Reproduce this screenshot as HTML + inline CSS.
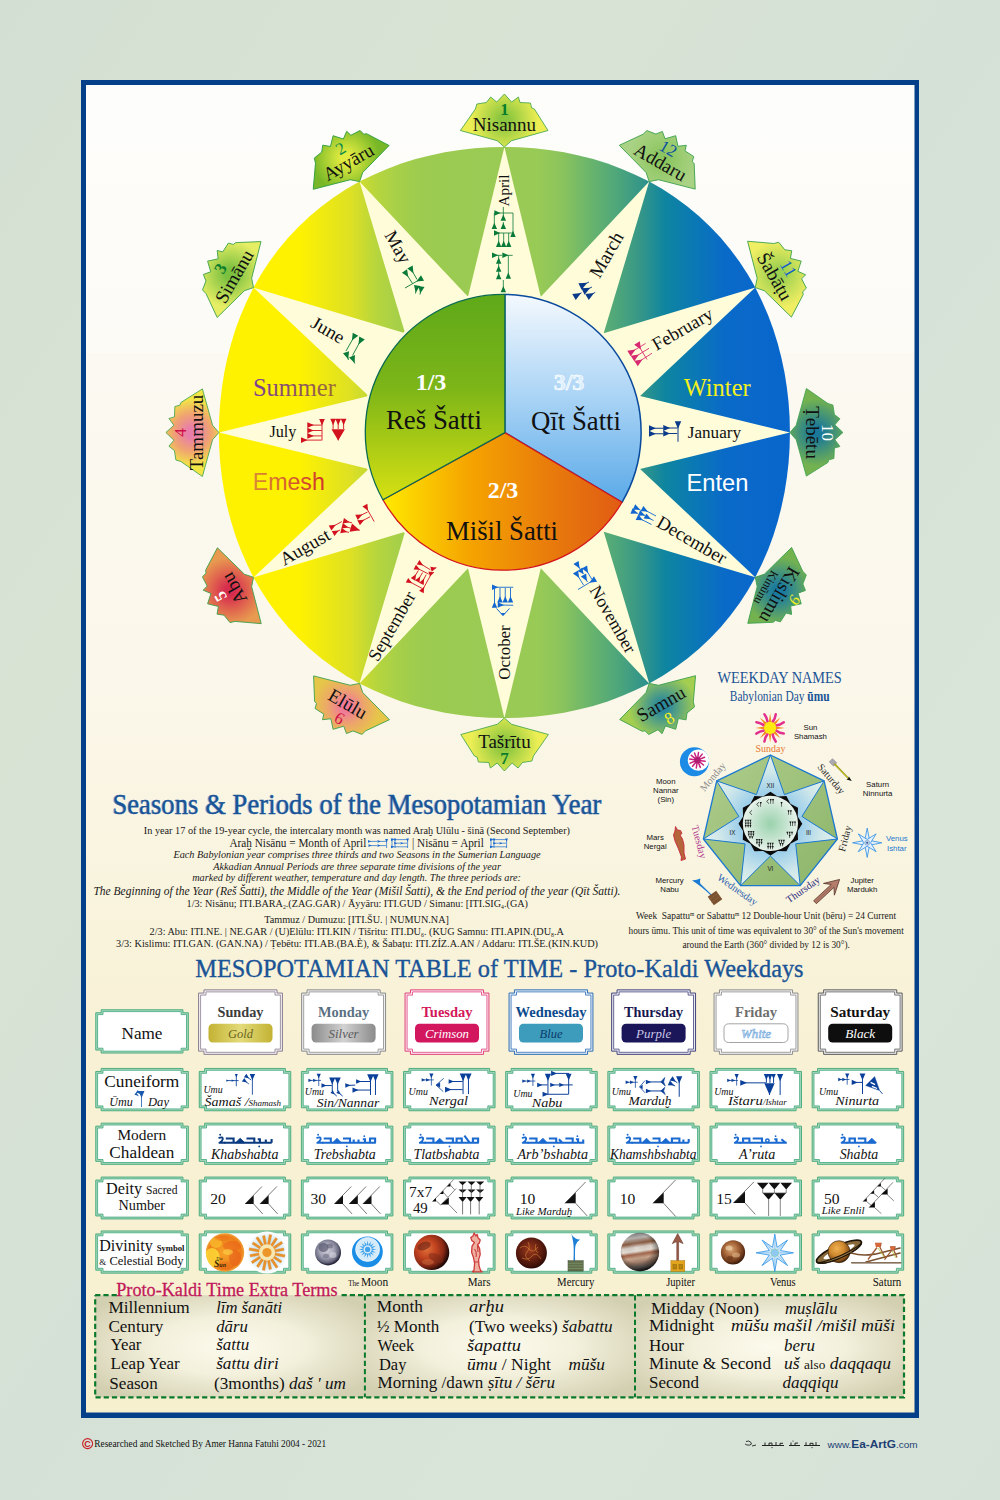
<!DOCTYPE html>
<html><head><meta charset="utf-8"><title>Seasons &amp; Periods of the Mesopotamian Year</title>
<style>
html,body{margin:0;padding:0;background:#d6e1d5;}
body{width:1000px;height:1500px;overflow:hidden;font-family:"Liberation Serif",serif;}
svg{display:block}
.se{font-family:"Liberation Serif",serif}
.sa{font-family:"Liberation Sans",sans-serif}
.i{font-style:italic}
.b{font-weight:bold}
</style></head><body>
<svg width="1000" height="1500" viewBox="0 0 1000 1500">

<defs>
<linearGradient id="bg" x1="0" y1="0" x2="1" y2="1">
<stop offset="0" stop-color="#d3dfd2"/><stop offset="0.25" stop-color="#d8e3d4"/><stop offset="0.5" stop-color="#d5e1d6"/><stop offset="0.75" stop-color="#dae5d9"/><stop offset="1" stop-color="#d6e2d7"/>
</linearGradient>
<linearGradient id="paper" x1="0" y1="0" x2="0" y2="1">
<stop offset="0" stop-color="#fdfdfb"/><stop offset="0.2015" stop-color="#fcfbf6"/><stop offset="0.2025" stop-color="#fbf9f1"/><stop offset="0.45" stop-color="#fbf7ea"/><stop offset="0.6" stop-color="#f9f4de"/><stop offset="0.72" stop-color="#f8f1d5"/><stop offset="1" stop-color="#f7f0cf"/>
</linearGradient>
<linearGradient id="disc" gradientUnits="userSpaceOnUse" x1="219" y1="0" x2="789" y2="0">
<stop offset="0" stop-color="#fff200"/><stop offset="0.14" stop-color="#fff200"/><stop offset="0.232" stop-color="#dde024"/><stop offset="0.274" stop-color="#b8d63c"/><stop offset="0.31" stop-color="#a8d048"/><stop offset="0.355" stop-color="#9ccb50"/><stop offset="0.56" stop-color="#98ca56"/><stop offset="0.60" stop-color="#8cc45c"/><stop offset="0.65" stop-color="#6ab56c"/><stop offset="0.705" stop-color="#4aa47c"/><stop offset="0.74" stop-color="#359688"/><stop offset="0.782" stop-color="#0f85a0"/><stop offset="0.835" stop-color="#0a78b5"/><stop offset="0.888" stop-color="#0a6ac8"/><stop offset="1" stop-color="#0866cc"/>
</linearGradient>
<linearGradient id="gGreen" x1="0" y1="0" x2="0" y2="1">
<stop offset="0" stop-color="#5fa91a"/><stop offset="0.45" stop-color="#7cb518"/><stop offset="1" stop-color="#d6e012"/>
</linearGradient>
<linearGradient id="gBlue" x1="0" y1="0" x2="0" y2="1">
<stop offset="0" stop-color="#f4f9fe"/><stop offset="0.5" stop-color="#a9d3f5"/><stop offset="1" stop-color="#5baae8"/>
</linearGradient>
<linearGradient id="gOrange" gradientUnits="userSpaceOnUse" x1="385" y1="0" x2="625" y2="0">
<stop offset="0" stop-color="#ffe800"/><stop offset="0.35" stop-color="#f5a400"/><stop offset="0.7" stop-color="#e87a0c"/><stop offset="1" stop-color="#e05a14"/>
</linearGradient>
<linearGradient id="gSummer" x1="0" y1="0" x2="1" y2="0"><stop offset="0" stop-color="#7b3f98"/><stop offset="1" stop-color="#9b6a35"/></linearGradient>
<linearGradient id="gEmesh" x1="0" y1="0" x2="1" y2="0"><stop offset="0" stop-color="#d98a35"/><stop offset="1" stop-color="#d0342c"/></linearGradient>
</defs>
<rect width="1000" height="1500" fill="url(#bg)"/>
<rect x="81" y="80" width="838" height="1338" fill="#04408a"/>
<rect x="86" y="85" width="828.5" height="1327.5" fill="url(#paper)"/>
<polygon points="504.4,147.0 519.3,147.3 534.3,148.3 549.1,150.0 564.0,152.3 578.7,155.4 593.2,159.1 607.6,163.6 621.8,168.9 635.7,174.9 649.2,181.6 662.4,189.1 675.2,197.4 687.4,206.5 699.1,216.2 710.2,226.7 720.7,237.8 730.4,249.5 739.5,261.7 747.8,274.5 755.3,287.6 762.0,301.2 768.0,315.1 773.3,329.3 777.8,343.7 781.5,358.2 784.6,372.9 786.9,387.8 788.6,402.6 789.6,417.6 789.9,432.5 789.6,447.4 788.6,462.4 786.9,477.2 784.6,492.1 781.5,506.8 777.8,521.3 773.3,535.7 768.0,549.9 762.0,563.8 755.3,577.3 747.8,590.5 739.5,603.3 730.4,615.5 720.7,627.2 710.2,638.3 699.1,648.8 687.4,658.5 675.2,667.6 662.4,675.9 649.2,683.4 635.7,690.1 621.8,696.1 607.6,701.4 593.2,705.9 578.7,709.6 564.0,712.7 549.1,715.0 534.3,716.7 519.3,717.7 504.4,718.0 489.5,717.7 474.5,716.7 459.7,715.0 444.8,712.7 430.1,709.6 415.6,705.9 401.2,701.4 387.0,696.1 373.1,690.1 359.5,683.4 346.4,675.9 333.6,667.6 321.4,658.5 309.7,648.8 298.6,638.3 288.1,627.2 278.4,615.5 269.3,603.3 261.0,590.5 253.5,577.4 246.8,563.8 240.8,549.9 235.5,535.7 231.0,521.3 227.3,506.8 224.2,492.1 221.9,477.2 220.2,462.4 219.2,447.4 218.9,432.5 219.2,417.6 220.2,402.6 221.9,387.8 224.2,372.9 227.3,358.2 231.0,343.7 235.5,329.3 240.8,315.1 246.8,301.2 253.5,287.6 261.0,274.5 269.3,261.7 278.4,249.5 288.1,237.8 298.6,226.7 309.7,216.2 321.4,206.5 333.6,197.4 346.4,189.1 359.5,181.6 373.1,174.9 387.0,168.9 401.2,163.6 415.6,159.1 430.1,155.4 444.8,152.3 459.7,150.0 474.5,148.3 489.5,147.3" fill="url(#disc)"/>
<polygon points="504.4,147.0 540.8,296.8 649.2,181.6 603.7,333.2 755.3,287.6 640.1,396.1 789.9,432.5 640.1,468.9 755.3,577.3 603.7,531.8 649.2,683.4 540.8,568.2 504.4,718.0 468.0,568.2 359.5,683.4 405.1,531.8 253.5,577.4 368.7,468.9 218.9,432.5 368.7,396.1 253.5,287.6 405.1,333.2 359.5,181.6 468.0,296.8" fill="#fffcd9"/>
<radialGradient id="tg0" gradientUnits="userSpaceOnUse" cx="0" cy="-27" r="42"><stop offset="0" stop-color="#8cc63f"/><stop offset="0.12" stop-color="#8cc63f"/><stop offset="0.8" stop-color="#ecee54"/></radialGradient>
<g transform="translate(504.4,147.0) rotate(0)">
<polygon points="0,0 -7.2,-6.3 -44,-16.5 -29,-38 -27.5,-43 -18,-44.5 -13.7,-50 -7.7,-45 0,-53 7.2,-45 14,-50 15.6,-44.5 26,-44 27.3,-39 30,-38 43.6,-16.5 7.2,-6.3" fill="url(#tg0)" stroke="#3aa04a" stroke-width="0.8" stroke-linejoin="miter"/>
<text x="0" y="-32.5" font-size="17" class="se b" fill="#0a7d2c" text-anchor="middle" >1</text>
<text x="0" y="-16" font-size="19" class="se" fill="#111" text-anchor="middle" >Nisannu</text>
</g>
<radialGradient id="tg1" gradientUnits="userSpaceOnUse" cx="0" cy="-27" r="42"><stop offset="0" stop-color="#e2ec40"/><stop offset="0.12" stop-color="#e2ec40"/><stop offset="0.8" stop-color="#78b828"/></radialGradient>
<g transform="translate(359.6,181.6) rotate(-30)">
<polygon points="0,0 -7.2,-6.3 -44,-16.5 -29,-38 -27.5,-43 -18,-44.5 -13.7,-50 -7.7,-45 0,-53 7.2,-45 14,-50 15.6,-44.5 26,-44 27.3,-39 30,-38 43.6,-16.5 7.2,-6.3" fill="url(#tg1)" stroke="#2a9a3a" stroke-width="0.8" stroke-linejoin="miter"/>
<text x="0" y="-32.5" font-size="17" class="se" fill="#0a8a4c" text-anchor="middle" >2</text>
<text x="0" y="-16" font-size="19" class="se" fill="#111" text-anchor="middle" >Ayyāru</text>
</g>
<radialGradient id="tg2" gradientUnits="userSpaceOnUse" cx="0" cy="-27" r="42"><stop offset="0" stop-color="#7cc040"/><stop offset="0.12" stop-color="#7cc040"/><stop offset="0.8" stop-color="#e6ee64"/></radialGradient>
<g transform="translate(253.5,287.6) rotate(-60)">
<polygon points="0,0 -7.2,-6.3 -44,-16.5 -29,-38 -27.5,-43 -18,-44.5 -13.7,-50 -7.7,-45 0,-53 7.2,-45 14,-50 15.6,-44.5 26,-44 27.3,-39 30,-38 43.6,-16.5 7.2,-6.3" fill="url(#tg2)" stroke="#3aa04a" stroke-width="0.8" stroke-linejoin="miter"/>
<text x="0" y="-32.5" font-size="17" class="se b" fill="#0a7d2c" text-anchor="middle" >3</text>
<text x="0" y="-16" font-size="19" class="se" fill="#111" text-anchor="middle" >Simānu</text>
</g>
<radialGradient id="tg3" gradientUnits="userSpaceOnUse" cx="0" cy="-27" r="42"><stop offset="0" stop-color="#e87eaa"/><stop offset="0.12" stop-color="#e87eaa"/><stop offset="0.45" stop-color="#f0a470"/><stop offset="0.8" stop-color="#f2e646"/></radialGradient>
<g transform="translate(218.9,432.5) rotate(-90)">
<polygon points="0,0 -7.2,-6.3 -44,-16.5 -29,-38 -27.5,-43 -18,-44.5 -13.7,-50 -7.7,-45 0,-53 7.2,-45 14,-50 15.6,-44.5 26,-44 27.3,-39 30,-38 43.6,-16.5 7.2,-6.3" fill="url(#tg3)" stroke="#3aa04a" stroke-width="0.8" stroke-linejoin="miter"/>
<text x="0" y="-32.5" font-size="17" class="se" fill="#d0104a" text-anchor="middle" >4</text>
<text x="0" y="-16" font-size="19" class="se" fill="#111" text-anchor="middle" >Tammuzu</text>
</g>
<radialGradient id="tg4" gradientUnits="userSpaceOnUse" cx="0" cy="-27" r="42"><stop offset="0" stop-color="#d62c4e"/><stop offset="0.12" stop-color="#d62c4e"/><stop offset="0.45" stop-color="#e0644e"/><stop offset="0.8" stop-color="#e89a50"/></radialGradient>
<g transform="translate(253.5,577.3) rotate(-120)">
<polygon points="0,0 -7.2,-6.3 -44,-16.5 -29,-38 -27.5,-43 -18,-44.5 -13.7,-50 -7.7,-45 0,-53 7.2,-45 14,-50 15.6,-44.5 26,-44 27.3,-39 30,-38 43.6,-16.5 7.2,-6.3" fill="url(#tg4)" stroke="#3aa04a" stroke-width="0.8" stroke-linejoin="miter"/>
<text x="0" y="-32.5" font-size="17" class="se b" fill="#ffffff" text-anchor="middle" >5</text>
<text x="0" y="-16" font-size="19" class="se" fill="#111" text-anchor="middle" >Abu</text>
</g>
<radialGradient id="tg5" gradientUnits="userSpaceOnUse" cx="0" cy="-27" r="42"><stop offset="0" stop-color="#f07a98"/><stop offset="0.12" stop-color="#f07a98"/><stop offset="0.45" stop-color="#eca868"/><stop offset="0.8" stop-color="#e6c648"/></radialGradient>
<g transform="translate(359.6,683.4) rotate(-150)">
<polygon points="0,0 -7.2,-6.3 -44,-16.5 -29,-38 -27.5,-43 -18,-44.5 -13.7,-50 -7.7,-45 0,-53 7.2,-45 14,-50 15.6,-44.5 26,-44 27.3,-39 30,-38 43.6,-16.5 7.2,-6.3" fill="url(#tg5)" stroke="#3aa04a" stroke-width="0.8" stroke-linejoin="miter"/>
<g transform="rotate(180)">
<text x="0" y="30" font-size="19" class="se" fill="#111" text-anchor="middle" >Elūlu</text>
<text x="0" y="46" font-size="17" class="se" fill="#d0104a" text-anchor="middle" >6</text>
</g>
</g>
<radialGradient id="tg6" gradientUnits="userSpaceOnUse" cx="0" cy="-27" r="42"><stop offset="0" stop-color="#8cc63f"/><stop offset="0.12" stop-color="#8cc63f"/><stop offset="0.8" stop-color="#ecee54"/></radialGradient>
<g transform="translate(504.4,718.0) rotate(180)">
<polygon points="0,0 -7.2,-6.3 -44,-16.5 -29,-38 -27.5,-43 -18,-44.5 -13.7,-50 -7.7,-45 0,-53 7.2,-45 14,-50 15.6,-44.5 26,-44 27.3,-39 30,-38 43.6,-16.5 7.2,-6.3" fill="url(#tg6)" stroke="#3aa04a" stroke-width="0.8" stroke-linejoin="miter"/>
<g transform="rotate(180)">
<text x="0" y="30" font-size="19" class="se" fill="#111" text-anchor="middle" >Tašrītu</text>
<text x="0" y="46" font-size="17" class="se b" fill="#0a7d2c" text-anchor="middle" >7</text>
</g>
</g>
<radialGradient id="tg7" gradientUnits="userSpaceOnUse" cx="0" cy="-27" r="42"><stop offset="0" stop-color="#2a889c"/><stop offset="0.12" stop-color="#2a889c"/><stop offset="0.8" stop-color="#a4ce50"/></radialGradient>
<g transform="translate(649.2,683.4) rotate(150)">
<polygon points="0,0 -7.2,-6.3 -44,-16.5 -29,-38 -27.5,-43 -18,-44.5 -13.7,-50 -7.7,-45 0,-53 7.2,-45 14,-50 15.6,-44.5 26,-44 27.3,-39 30,-38 43.6,-16.5 7.2,-6.3" fill="url(#tg7)" stroke="#3aa04a" stroke-width="0.8" stroke-linejoin="miter"/>
<g transform="rotate(180)">
<text x="0" y="30" font-size="19" class="se" fill="#111" text-anchor="middle" >Samnu</text>
<text x="0" y="46" font-size="17" class="se" fill="#f5f020" text-anchor="middle" >8</text>
</g>
</g>
<radialGradient id="tg8" gradientUnits="userSpaceOnUse" cx="0" cy="-27" r="42"><stop offset="0" stop-color="#1a7aa0"/><stop offset="0.12" stop-color="#1a7aa0"/><stop offset="0.8" stop-color="#74b250"/></radialGradient>
<g transform="translate(755.3,577.3) rotate(120)">
<polygon points="0,0 -7.2,-6.3 -44,-16.5 -29,-38 -27.5,-43 -18,-44.5 -13.7,-50 -7.7,-45 0,-53 7.2,-45 14,-50 15.6,-44.5 26,-44 27.3,-39 30,-38 43.6,-16.5 7.2,-6.3" fill="url(#tg8)" stroke="#3aa04a" stroke-width="0.8" stroke-linejoin="miter"/>
<text x="0" y="-40" font-size="16" class="se i" fill="#f5f020" text-anchor="middle" >9</text>
<text x="3" y="-23.5" font-size="19" class="se" fill="#111" text-anchor="middle" >Kislimu</text>
<text x="3.5" y="-10.5" font-size="12.3" class="se" fill="#111" text-anchor="middle" >Kinūnu</text>
</g>
<radialGradient id="tg9" gradientUnits="userSpaceOnUse" cx="0" cy="-27" r="42"><stop offset="0" stop-color="#1a7898"/><stop offset="0.12" stop-color="#1a7898"/><stop offset="0.8" stop-color="#74b250"/></radialGradient>
<g transform="translate(789.9,432.5) rotate(90)">
<polygon points="0,0 -7.2,-6.3 -44,-16.5 -29,-38 -27.5,-43 -18,-44.5 -13.7,-50 -7.7,-45 0,-53 7.2,-45 14,-50 15.6,-44.5 26,-44 27.3,-39 30,-38 43.6,-16.5 7.2,-6.3" fill="url(#tg9)" stroke="#3aa04a" stroke-width="0.8" stroke-linejoin="miter"/>
<text x="0" y="-32.5" font-size="17" class="se" fill="#ffffff" text-anchor="middle" >10</text>
<text x="0" y="-16" font-size="19" class="se" fill="#111" text-anchor="middle" >Ṭebētu</text>
</g>
<radialGradient id="tg10" gradientUnits="userSpaceOnUse" cx="0" cy="-27" r="42"><stop offset="0" stop-color="#9cd050"/><stop offset="0.12" stop-color="#9cd050"/><stop offset="0.8" stop-color="#f0ee62"/></radialGradient>
<g transform="translate(755.3,287.6) rotate(60)">
<polygon points="0,0 -7.2,-6.3 -44,-16.5 -29,-38 -27.5,-43 -18,-44.5 -13.7,-50 -7.7,-45 0,-53 7.2,-45 14,-50 15.6,-44.5 26,-44 27.3,-39 30,-38 43.6,-16.5 7.2,-6.3" fill="url(#tg10)" stroke="#3aa04a" stroke-width="0.8" stroke-linejoin="miter"/>
<text x="0" y="-32.5" font-size="17" class="se" fill="#1060c8" text-anchor="middle" >11</text>
<text x="0" y="-16" font-size="19" class="se" fill="#111" text-anchor="middle" >Šabāṭu</text>
</g>
<radialGradient id="tg11" gradientUnits="userSpaceOnUse" cx="0" cy="-27" r="42"><stop offset="0" stop-color="#8cc660"/><stop offset="0.12" stop-color="#8cc660"/><stop offset="0.8" stop-color="#aad284"/></radialGradient>
<g transform="translate(649.2,181.6) rotate(30)">
<polygon points="0,0 -7.2,-6.3 -44,-16.5 -29,-38 -27.5,-43 -18,-44.5 -13.7,-50 -7.7,-45 0,-53 7.2,-45 14,-50 15.6,-44.5 26,-44 27.3,-39 30,-38 43.6,-16.5 7.2,-6.3" fill="url(#tg11)" stroke="#3aa04a" stroke-width="0.8" stroke-linejoin="miter"/>
<text x="0" y="-32.5" font-size="17" class="se" fill="#1050a0" text-anchor="middle" >12</text>
<text x="0" y="-16" font-size="19" class="se" fill="#111" text-anchor="middle" >Addaru</text>
</g>
<circle cx="503.2" cy="432.3" r="141" fill="#fffcd9"/>
<path d="M504.9,432.6 L504.88,294.41 A137.9,137.9 0 0 1 622.02,502.29 Z" fill="url(#gBlue)" stroke="#0a4a9c" stroke-width="1.5" stroke-linejoin="round"/>
<path d="M504.9,432.6 L622.02,502.29 A137.9,137.9 0 0 1 382.94,499.79 Z" fill="url(#gOrange)" stroke="#d4161e" stroke-width="1.3" stroke-linejoin="round"/>
<path d="M504.9,432.6 L382.94,499.79 A137.9,137.9 0 0 1 504.88,294.41 Z" fill="url(#gGreen)" stroke="#0a6a50" stroke-width="1.3" stroke-linejoin="round"/>
<text x="431" y="390" font-size="24" class="se b" fill="#ffffff" text-anchor="middle" >1/3</text>
<text x="434" y="429" font-size="27" class="se" fill="#111" text-anchor="middle" textLength="96" lengthAdjust="spacingAndGlyphs" >Reš Šatti</text>
<text x="569" y="390" font-size="24" class="se b" fill="#dbeefc" text-anchor="middle" stroke="#ffffff" stroke-width="0.6">3/3</text>
<text x="576" y="430" font-size="27" class="se" fill="#111" text-anchor="middle" textLength="90" lengthAdjust="spacingAndGlyphs" >Qīt Šatti</text>
<text x="503" y="498" font-size="24" class="se b" fill="#ffffff" text-anchor="middle" >2/3</text>
<text x="502" y="540" font-size="27" class="se" fill="#111" text-anchor="middle" textLength="112" lengthAdjust="spacingAndGlyphs" >Mišil Šatti</text>
<text x="294.4" y="395.5" font-size="24.5" class="se" fill="url(#gSummer)" text-anchor="middle" textLength="83" lengthAdjust="spacingAndGlyphs" >Summer</text>
<text x="288.8" y="490.4" font-size="23.1" class="sa" fill="url(#gEmesh)" text-anchor="middle" textLength="72" lengthAdjust="spacingAndGlyphs" >Emesh</text>
<text x="717.2" y="395.5" font-size="24.2" class="se" fill="#f3f01e" text-anchor="middle" textLength="67" lengthAdjust="spacingAndGlyphs" >Winter</text>
<text x="717.5" y="491" font-size="23.6" class="sa" fill="#ffffff" text-anchor="middle" textLength="62" lengthAdjust="spacingAndGlyphs" >Enten</text>
<g transform="translate(504.4,190.5) rotate(-90)"><text x="0" y="4.5" font-size="15" class="se" fill="#111" text-anchor="middle" textLength="32" lengthAdjust="spacingAndGlyphs" >April</text></g>
<g transform="translate(397.4,247.2) rotate(60)"><text x="0" y="5.55" font-size="18.5" class="se" fill="#111" text-anchor="middle" textLength="34.6" lengthAdjust="spacingAndGlyphs" >May</text></g>
<g transform="translate(327.7,330.5) rotate(30)"><text x="0" y="5.55" font-size="18.5" class="se" fill="#111" text-anchor="middle" textLength="35.5" lengthAdjust="spacingAndGlyphs" >June</text></g>
<g transform="translate(282.9,432.5) rotate(0)"><text x="0" y="4.95" font-size="16.5" class="se" fill="#111" text-anchor="middle" textLength="27" lengthAdjust="spacingAndGlyphs" >July</text></g>
<g transform="translate(305.2,547.5) rotate(-30)"><text x="0" y="5.55" font-size="18.5" class="se" fill="#111" text-anchor="middle" textLength="55" lengthAdjust="spacingAndGlyphs" >August</text></g>
<g transform="translate(392.4,626.5) rotate(-60)"><text x="0" y="5.3999999999999995" font-size="18" class="se" fill="#111" text-anchor="middle" textLength="77" lengthAdjust="spacingAndGlyphs" >September</text></g>
<g transform="translate(504.4,652.5) rotate(-90)"><text x="0" y="5.1" font-size="17" class="se" fill="#111" text-anchor="middle" textLength="54.4" lengthAdjust="spacingAndGlyphs" >October</text></g>
<g transform="translate(612.4,619.6) rotate(60)"><text x="0" y="5.34" font-size="17.8" class="se" fill="#111" text-anchor="middle" textLength="75" lengthAdjust="spacingAndGlyphs" >November</text></g>
<g transform="translate(691.5,540.5) rotate(30)"><text x="0" y="5.64" font-size="18.8" class="se" fill="#111" text-anchor="middle" textLength="77.2" lengthAdjust="spacingAndGlyphs" >December</text></g>
<g transform="translate(714.4,432.5) rotate(0)"><text x="0" y="5.159999999999999" font-size="17.2" class="se" fill="#111" text-anchor="middle" textLength="53.4" lengthAdjust="spacingAndGlyphs" >January</text></g>
<g transform="translate(682.8,329.5) rotate(-30)"><text x="0" y="5.55" font-size="18.5" class="se" fill="#111" text-anchor="middle" textLength="67" lengthAdjust="spacingAndGlyphs" >February</text></g>
<g transform="translate(606.9,255.0) rotate(-60)"><text x="0" y="5.669999999999999" font-size="18.9" class="se" fill="#111" text-anchor="middle" textLength="49.3" lengthAdjust="spacingAndGlyphs" >March</text></g>
<path d="M494.33,215.71L494.33,210.29L500.58,213.00ZM506.05,220.67L500.62,220.67L503.33,214.42ZM506.05,229.00L500.62,229.00L503.33,222.76ZM497.05,229.00L491.62,229.00L494.33,222.76ZM515.71,237.00L510.29,237.00L513.00,230.76ZM494.00,235.71L494.00,230.29L500.24,233.00ZM501.38,247.00L495.95,247.00L498.67,240.76ZM506.38,247.00L500.95,247.00L503.67,240.76ZM511.38,247.00L505.95,247.00L508.67,240.76ZM492.00,258.05L492.00,252.62L498.24,255.33ZM502.33,258.05L502.33,252.62L508.58,255.33ZM501.38,263.67L495.95,263.67L498.67,257.42ZM501.38,271.67L495.95,271.67L498.67,265.42ZM501.38,279.33L495.95,279.33L498.67,273.09ZM511.05,278.67L505.62,278.67L508.33,272.42ZM506.05,292.33L500.62,292.33L503.33,286.09Z" fill="#0a7a3a"/><path d="M497.45,213.00L513.00,213.00M503.33,217.55L503.33,207.00M503.33,225.88L503.33,222.00M494.33,225.88L494.33,213.00M513.00,233.88L513.00,213.00M497.12,233.00L513.00,233.00M498.67,243.88L498.67,233.00M503.67,243.88L503.67,233.00M508.67,243.88L508.67,233.00M495.12,255.33L502.00,255.33M505.45,255.33L512.67,255.33M498.67,260.55L498.67,255.33M498.67,268.55L498.67,263.33M498.67,276.21L498.67,271.33M508.33,275.55L508.33,255.33M503.33,289.21L503.33,280.00" stroke="#0a7a3a" stroke-width="0.8" fill="none"/>
<path d="M401.92,272.65L407.08,269.35L408.30,276.94ZM407.32,268.50L412.68,265.50L413.45,273.16ZM420.98,275.34L424.02,280.66L416.37,281.50ZM413.98,284.93L420.02,286.07L415.70,292.44ZM418.48,285.93L424.52,287.07L420.20,293.44Z" fill="#0a7a3a"/><path d="M406.40,273.97L412.50,283.50M411.72,270.08L417.00,279.50M419.44,279.75L405.00,288.00M416.35,288.97L415.50,293.50M420.85,289.97L420.00,294.50" stroke="#0a7a3a" stroke-width="0.9" fill="none"/>
<path d="M352.73,332.68L358.27,335.82L351.88,340.62ZM359.20,336.48L364.80,339.52L358.50,344.44ZM342.97,353.23L349.03,351.27L348.25,359.22ZM349.02,357.38L354.98,355.12L354.60,363.10Z" fill="#0a7a3a"/><path d="M353.69,337.44L346.00,351.00M360.25,341.22L352.50,355.50M347.12,355.74L348.50,360.00M353.30,359.68L354.75,363.50" stroke="#0a7a3a" stroke-width="0.9" fill="none"/>
<path d="M307.30,427.93L307.30,422.27L313.81,425.10ZM307.30,433.33L307.30,427.67L313.81,430.50ZM307.30,438.73L307.30,433.07L313.81,435.90ZM301.00,442.93L301.00,437.27L307.51,440.10ZM319.17,419.10L324.83,419.10L322.00,425.61ZM330.27,418.80L335.93,418.80L333.10,425.31ZM335.37,418.80L341.03,418.80L338.20,425.31ZM340.77,418.80L346.43,418.80L343.60,425.31ZM331.47,429.30L344.93,429.30L338.20,440.40Z" fill="#d3121f"/><path d="M310.56,425.10L321.70,425.10M310.56,430.50L321.70,430.50M310.56,435.90L321.70,435.90M304.26,440.10L321.70,440.10M322.00,422.36L322.00,440.40M333.10,422.06L333.10,429.00M338.20,422.06L338.20,429.00M343.60,422.06L343.60,429.00M338.20,434.85L338.20,440.40" stroke="#d3121f" stroke-width="0.9" fill="none"/>
<path d="M362.43,506.49L367.37,503.71L368.10,510.77ZM357.74,519.95L355.26,514.85L362.36,514.55ZM359.92,525.31L357.28,520.29L364.36,519.77ZM331.44,530.39L328.76,525.41L335.83,524.81ZM334.41,536.11L331.79,531.09L338.87,530.59ZM342.64,523.45L343.96,517.95L349.63,522.23ZM341.35,528.53L342.85,523.07L348.38,527.53ZM340.29,533.36L341.51,527.83L347.26,532.01ZM349.58,531.67L352.02,523.53L359.80,530.30Z" fill="#d3121f"/><path d="M366.50,507.94L374.20,521.60M359.43,515.97L367.60,512.00M361.48,521.28L370.00,516.80M332.97,526.36L341.80,521.60M335.99,532.09L340.00,530.00M346.47,521.46L352.00,522.80M345.24,526.67L350.80,528.20M344.08,531.31L349.00,532.40M355.30,528.95L359.80,530.30" stroke="#d3121f" stroke-width="0.9" fill="none"/>
<path d="M416.75,564.52L419.45,560.08L423.20,565.41ZM413.64,569.42L415.96,564.78L420.14,569.77ZM405.77,582.58L408.23,578.02L412.25,583.14ZM415.23,580.74L410.77,578.06L416.07,574.28ZM419.43,582.84L414.97,580.16L420.27,576.38ZM423.71,585.09L419.09,582.71L424.14,578.59ZM423.68,593.25L419.12,590.75L424.27,586.76ZM431.69,571.70L430.30,566.70L436.40,567.70ZM429.97,576.48L428.42,571.52L434.00,572.50Z" fill="#d3121f"/><path d="M420.65,563.85L430.40,569.80M417.47,568.43L428.60,574.00M409.63,581.72L422.00,588.40M414.54,576.84L418.40,570.40M418.74,578.94L422.60,572.50M422.77,581.25L426.20,574.60M422.83,589.38L431.60,573.40M433.70,568.45L436.40,567.70M431.60,573.25L434.00,572.50" stroke="#d3121f" stroke-width="0.9" fill="none"/>
<path d="M492.00,589.96L492.00,584.54L498.24,587.25ZM497.21,607.75L491.79,607.75L494.50,601.51ZM502.71,602.50L497.29,602.50L500.00,596.26ZM507.96,602.50L502.54,602.50L505.25,596.26ZM513.21,602.50L507.79,602.50L510.50,596.26ZM497.71,607.71L497.79,602.29L503.99,605.10Z" fill="#1266d0"/><path d="M495.12,587.25L513.25,587.25M494.50,604.63L494.50,588.50M500.00,599.38L500.00,588.00M505.25,599.38L505.25,588.00M510.50,599.38L510.50,588.00M500.87,605.05L513.25,605.25" stroke="#1266d0" stroke-width="0.9" fill="none"/>
<polyline points="496.50,608.50 503.00,615.50 509.50,608.50" stroke="#1266d0" stroke-width="1.0" fill="none"/>
<path d="M500.50,613.00 L505.50,613.00 L503.00,615.75Z" fill="#1266d0"/>
<path d="M573.39,564.11L578.61,560.89L579.70,568.51ZM577.53,571.07L582.47,567.43L583.50,574.00ZM580.84,576.52L586.16,573.48L587.00,581.13ZM572.89,573.61L578.11,570.39L579.20,578.01ZM581.87,568.58L587.13,565.42L588.13,573.05ZM593.92,576.37L597.08,581.63L589.45,582.63Z" fill="#1266d0"/><path d="M577.85,565.50L580.00,569.00M581.75,571.62L583.50,574.00M585.25,578.06L587.50,582.00M577.35,575.00L583.50,585.00M586.32,570.03L592.00,579.50M592.47,580.82L578.00,589.50" stroke="#1266d0" stroke-width="0.9" fill="none"/>
<path d="M632.76,509.68L635.24,504.32L640.16,509.84ZM630.44,513.75L632.56,508.25L637.83,513.44ZM640.61,511.10L643.39,505.90L647.98,511.70ZM637.87,515.72L640.13,510.28L645.00,515.50ZM643.62,518.61L646.38,513.39L651.00,519.17ZM635.68,519.89L638.32,514.61L643.07,520.28Z" fill="#1266d0"/><path d="M637.08,508.42L640.50,510.00M634.67,512.22L638.00,513.50M644.99,510.10L656.00,516.00M642.00,514.25L645.00,515.50M648.00,517.59L653.50,520.50M640.03,518.77L651.50,524.50" stroke="#1266d0" stroke-width="0.9" fill="none"/>
<path d="M649.00,431.20L649.00,425.30L655.78,428.25ZM649.00,436.70L649.00,430.80L655.78,433.75ZM663.25,430.95L663.25,425.05L670.03,428.00ZM663.25,436.45L663.25,430.55L670.03,433.50ZM674.75,421.25L681.25,421.25L678.00,428.71Z" fill="#0a3a8a"/><path d="M652.39,428.25L663.50,428.25M652.39,433.75L663.50,433.75M666.64,428.00L677.25,428.00M666.64,433.50L677.25,433.50M678.00,424.98L678.00,441.75" stroke="#0a3a8a" stroke-width="1.0" fill="none"/>
<path d="M630.71,356.33L627.29,350.67L635.50,349.56ZM634.24,361.31L630.76,355.69L638.96,354.49ZM637.78,366.28L634.22,360.72L642.40,359.40ZM634.17,344.71L639.83,341.29L640.94,349.50Z" fill="#d82a70"/><path d="M632.25,351.53L645.50,343.50M635.73,356.50L649.00,348.25M639.20,361.45L652.00,353.25M638.97,346.25L647.00,359.50" stroke="#d82a70" stroke-width="0.9" fill="none"/>
<path d="M581.58,289.67L578.42,283.33L587.28,282.86ZM584.58,294.67L581.42,288.33L590.28,287.86ZM588.77,300.07L585.23,293.93L594.06,292.94ZM575.75,300.08L572.25,293.92L581.08,292.99Z" fill="#0a3a8a"/><path d="M583.64,284.68L589.00,282.00M586.64,289.68L592.00,287.00M590.53,294.97L595.25,292.25M577.54,294.99L581.50,292.75" stroke="#0a3a8a" stroke-width="0.9" fill="none"/>
<text x="111.3" y="814.0" font-size="29.5" class="se" fill="#a9c6e6" textLength="489.0" lengthAdjust="spacingAndGlyphs" >Seasons &amp; Periods of the Mesopotamian Year</text>
<text x="112.4" y="813.6" font-size="29.5" class="se" fill="#1a5496" textLength="489.0" lengthAdjust="spacingAndGlyphs" stroke="#1a5496" stroke-width="0.35">Seasons &amp; Periods of the Mesopotamian Year</text>
<text x="143.8" y="833.8" font-size="10.6" class="se" fill="#1a1a1a" textLength="426.2" lengthAdjust="spacingAndGlyphs" >In year 17 of the 19-year cycle, the intercalary month was named Araḫ Ulūlu - šinā (Second September)</text>
<text x="229.5" y="847.0" font-size="12.6" class="se" fill="#1a1a1a" textLength="136.8" lengthAdjust="spacingAndGlyphs" >Araḫ Nisānu = Month of April</text>
<path d="M368.00,842.80L368.00,840.00L371.22,841.40ZM377.50,842.80L377.50,840.00L380.72,841.40ZM368.50,847.00L368.50,844.20L371.72,845.60ZM377.50,847.00L377.50,844.20L380.72,845.60ZM385.10,839.00L388.10,839.00L386.60,842.45Z" fill="#1a6ad0"/><path d="M369.61,841.40L377.00,841.40M379.11,841.40L386.00,841.40M370.11,845.60L377.00,845.60M379.11,845.60L386.00,845.60M386.60,840.73L386.60,848.00" stroke="#1a6ad0" stroke-width="0.7" fill="none"/><path d="M391.00,841.00L391.00,838.20L394.22,839.60ZM391.00,848.20L391.00,845.40L394.22,846.80ZM394.20,844.50L394.20,841.90L397.19,843.20ZM400.50,844.50L400.50,841.90L403.49,843.20ZM390.70,838.60L393.30,838.60L392.00,841.59ZM393.70,838.60L396.30,838.60L395.00,841.59ZM406.20,838.60L409.00,838.60L407.60,841.82Z" fill="#1a6ad0"/><path d="M392.61,839.60L408.00,839.60M392.61,846.80L408.00,846.80M395.69,843.20L400.00,843.20M402.00,843.20L407.00,843.20M392.00,840.10L392.00,848.00M395.00,840.10L395.00,848.00M407.60,840.21L407.60,848.00" stroke="#1a6ad0" stroke-width="0.7" fill="none"/><path d="M490.00,841.00L490.00,838.20L493.22,839.60ZM490.00,848.20L490.00,845.40L493.22,846.80ZM493.20,844.50L493.20,841.90L496.19,843.20ZM499.50,844.50L499.50,841.90L502.49,843.20ZM489.70,838.60L492.30,838.60L491.00,841.59ZM492.70,838.60L495.30,838.60L494.00,841.59ZM505.20,838.60L508.00,838.60L506.60,841.82Z" fill="#1a6ad0"/><path d="M491.61,839.60L507.00,839.60M491.61,846.80L507.00,846.80M494.69,843.20L499.00,843.20M501.00,843.20L506.00,843.20M491.00,840.10L491.00,848.00M494.00,840.10L494.00,848.00M506.60,840.21L506.60,848.00" stroke="#1a6ad0" stroke-width="0.7" fill="none"/>
<text x="412.0" y="847.0" font-size="12.6" class="se" fill="#1a1a1a" textLength="71.8" lengthAdjust="spacingAndGlyphs" >| Nisānu = April</text>
<text x="173.4" y="858.4" font-size="10.6" class="se i" fill="#1a1a1a" textLength="367.2" lengthAdjust="spacingAndGlyphs" >Each Babylonian year comprises three thirds and two Seasons in the Sumerian Language</text>
<text x="213.2" y="870.0" font-size="10.6" class="se i" fill="#1a1a1a" textLength="287.7" lengthAdjust="spacingAndGlyphs" >Akkadian Annual Periods are three separate time divisions of the year</text>
<text x="192.2" y="881.4" font-size="10.6" class="se i" fill="#1a1a1a" textLength="328.8" lengthAdjust="spacingAndGlyphs" >marked by different weather, temperature and day length. The three periods are:</text>
<text x="93.4" y="894.8" font-size="12.6" class="se i" fill="#1a1a1a" textLength="527.0" lengthAdjust="spacingAndGlyphs" >The Beginning of the Year (Reš Šatti), the Middle of the Year (Mišil Šatti), &amp; the End period of the year (Qīt Šatti).</text>
<text x="186.6" y="907.4" font-size="10.6" class="se" fill="#1a1a1a" textLength="341.4" lengthAdjust="spacingAndGlyphs" >1/3: Nisānu; ITI.BARA<tspan font-size="6" dy="2">2</tspan><tspan dy="-2">.(ZAG.GAR) / Āyyāru: ITI.GUD / Simanu: [ITI.SIG</tspan><tspan font-size="6" dy="2">4</tspan><tspan dy="-2">.(GA)</tspan></text>
<text x="264.2" y="923.4" font-size="10.6" class="se" fill="#1a1a1a" textLength="184.8" lengthAdjust="spacingAndGlyphs" >Tammuz / Dumuzu: [ITI.ŠU. | NUMUN.NA]</text>
<text x="149.6" y="935.4" font-size="10.6" class="se" fill="#1a1a1a" textLength="414.3" lengthAdjust="spacingAndGlyphs" >2/3: Abu: ITI.NE. | NE.GAR / (U)Elūlu: ITI.KIN / Tišritu: ITI.DU<tspan font-size="6" dy="2">6</tspan><tspan dy="-2">. (KUG Samnu: ITI.APIN.(DU</tspan><tspan font-size="6" dy="2">8</tspan><tspan dy="-2">.A</tspan></text>
<text x="116.0" y="947.2" font-size="10.6" class="se" fill="#1a1a1a" textLength="482.0" lengthAdjust="spacingAndGlyphs" >3/3: Kislimu: ITI.GAN. (GAN.NA) / Ṭebētu: ITI.AB.(BA.È), &amp; Šabaṭu: ITI.ZÍZ.A.AN / Addaru: ITI.ŠE.(KIN.KUD)</text>
<text x="195.3" y="977.4" font-size="25.4" class="se" fill="#1a5496" textLength="608.3" lengthAdjust="spacingAndGlyphs" stroke="#1a5496" stroke-width="0.35">MESOPOTAMIAN TABLE of TIME - Proto-Kaldi Weekdays</text>
<text x="717.6" y="683.0" font-size="16.5" class="se" fill="#1a5496" textLength="124.2" lengthAdjust="spacingAndGlyphs" >WEEKDAY NAMES</text>
<text x="729.8" y="701" font-size="13.6" class="se" fill="#1a5496" textLength="99.8" lengthAdjust="spacingAndGlyphs">Babylonian Day <tspan font-weight="bold">ūmu</tspan></text>
<linearGradient id="hg" gradientUnits="userSpaceOnUse" x1="700" y1="760" x2="840" y2="890"><stop offset="0" stop-color="#afcd8c"/><stop offset="1" stop-color="#8bb469"/></linearGradient>
<radialGradient id="hs" gradientUnits="userSpaceOnUse" cx="770.4" cy="823.7" r="68.7"><stop offset="0.35" stop-color="#8fc8ea"/><stop offset="0.75" stop-color="#cfe7ea"/><stop offset="1" stop-color="#e4f1ea"/></radialGradient>
<radialGradient id="hc" gradientUnits="userSpaceOnUse" cx="770.4" cy="823.7" r="28"><stop offset="0" stop-color="#9ad2ac"/><stop offset="0.55" stop-color="#c3e3ce"/><stop offset="1" stop-color="#e9f3ec"/></radialGradient>
<polygon points="770.4,755.0 824.1,780.9 837.4,839.0 800.2,885.6 740.6,885.6 703.4,839.0 716.7,780.9" fill="url(#hg)" stroke="#1a78d0" stroke-width="1.3" stroke-linejoin="round"/>
<polygon points="770.4,755.0 784.4,794.6 824.1,780.9 801.9,816.5 837.4,839.0 795.7,843.8 800.2,885.6 770.4,856.0 740.6,885.6 745.1,843.8 703.4,839.0 738.9,816.5 716.7,780.9 756.4,794.6" fill="url(#hs)" stroke="#1a78d0" stroke-width="1" stroke-linejoin="round"/>
<polygon points="770.4,791.8 777.7,796.4 786.4,796.1 790.4,803.7 798.0,807.8 797.7,816.4 802.3,823.7 797.7,831.0 798.0,839.7 790.4,843.7 786.4,851.3 777.7,851.0 770.4,855.6 763.1,851.0 754.4,851.3 750.4,843.7 742.8,839.7 743.1,831.0 738.5,823.7 743.1,816.4 742.8,807.8 750.4,803.7 754.4,796.1 763.1,796.4" fill="#0a0a0a"/>
<circle cx="770.4" cy="823.4000000000001" r="27.6" fill="url(#hc)"/>
<text x="770.4" y="787.5" font-size="6.3" class="sa" fill="#222" text-anchor="middle" >XII</text>
<text x="808.5" y="834.5" font-size="6.3" class="sa" fill="#222" text-anchor="middle" >III</text>
<text x="770.4" y="871" font-size="6.3" class="sa" fill="#222" text-anchor="middle" >VI</text>
<text x="732.6" y="834.5" font-size="6.3" class="sa" fill="#222" text-anchor="middle" >IX</text>
<path d="M780.50,802.09 h2.1 l-0.75,2.0 v2.60 h-0.6 v-2.60 z" fill="#1a1a1a"/>
<path d="M787.51,810.25 h2.1 l-0.75,2.0 v2.60 h-0.6 v-2.60 z" fill="#1a1a1a"/><path d="M789.81,810.25 h2.1 l-0.75,2.0 v2.60 h-0.6 v-2.60 z" fill="#1a1a1a"/>
<path d="M789.35,821.40 h2.1 l-0.75,2.0 v2.60 h-0.6 v-2.60 z" fill="#1a1a1a"/><path d="M791.65,821.40 h2.1 l-0.75,2.0 v2.60 h-0.6 v-2.60 z" fill="#1a1a1a"/><path d="M793.95,821.40 h2.1 l-0.75,2.0 v2.60 h-0.6 v-2.60 z" fill="#1a1a1a"/>
<path d="M786.36,831.65 h2.1 l-0.75,2.0 v1.20 h-0.6 v-1.20 z" fill="#1a1a1a"/><path d="M788.66,831.65 h2.1 l-0.75,2.0 v1.20 h-0.6 v-1.20 z" fill="#1a1a1a"/><path d="M790.96,831.65 h2.1 l-0.75,2.0 v1.20 h-0.6 v-1.20 z" fill="#1a1a1a"/><path d="M788.66,834.85 h2.1 l-0.75,2.0 v1.20 h-0.6 v-1.20 z" fill="#1a1a1a"/>
<path d="M778.20,839.81 h2.1 l-0.75,2.0 v1.20 h-0.6 v-1.20 z" fill="#1a1a1a"/><path d="M780.50,839.81 h2.1 l-0.75,2.0 v1.20 h-0.6 v-1.20 z" fill="#1a1a1a"/><path d="M782.80,839.81 h2.1 l-0.75,2.0 v1.20 h-0.6 v-1.20 z" fill="#1a1a1a"/><path d="M779.35,843.01 h2.1 l-0.75,2.0 v1.20 h-0.6 v-1.20 z" fill="#1a1a1a"/><path d="M781.65,843.01 h2.1 l-0.75,2.0 v1.20 h-0.6 v-1.20 z" fill="#1a1a1a"/>
<path d="M767.05,842.80 h2.1 l-0.75,2.0 v1.20 h-0.6 v-1.20 z" fill="#1a1a1a"/><path d="M769.35,842.80 h2.1 l-0.75,2.0 v1.20 h-0.6 v-1.20 z" fill="#1a1a1a"/><path d="M771.65,842.80 h2.1 l-0.75,2.0 v1.20 h-0.6 v-1.20 z" fill="#1a1a1a"/><path d="M767.05,846.00 h2.1 l-0.75,2.0 v1.20 h-0.6 v-1.20 z" fill="#1a1a1a"/><path d="M769.35,846.00 h2.1 l-0.75,2.0 v1.20 h-0.6 v-1.20 z" fill="#1a1a1a"/><path d="M771.65,846.00 h2.1 l-0.75,2.0 v1.20 h-0.6 v-1.20 z" fill="#1a1a1a"/>
<path d="M755.90,839.11 h2.1 l-0.75,2.0 v0.60 h-0.6 v-0.60 z" fill="#1a1a1a"/><path d="M758.20,839.11 h2.1 l-0.75,2.0 v0.60 h-0.6 v-0.60 z" fill="#1a1a1a"/><path d="M760.50,839.11 h2.1 l-0.75,2.0 v0.60 h-0.6 v-0.60 z" fill="#1a1a1a"/><path d="M755.90,841.71 h2.1 l-0.75,2.0 v0.60 h-0.6 v-0.60 z" fill="#1a1a1a"/><path d="M758.20,841.71 h2.1 l-0.75,2.0 v0.60 h-0.6 v-0.60 z" fill="#1a1a1a"/><path d="M760.50,841.71 h2.1 l-0.75,2.0 v0.60 h-0.6 v-0.60 z" fill="#1a1a1a"/><path d="M758.20,844.31 h2.1 l-0.75,2.0 v0.60 h-0.6 v-0.60 z" fill="#1a1a1a"/>
<path d="M747.74,830.95 h2.1 l-0.75,2.0 v0.60 h-0.6 v-0.60 z" fill="#1a1a1a"/><path d="M750.04,830.95 h2.1 l-0.75,2.0 v0.60 h-0.6 v-0.60 z" fill="#1a1a1a"/><path d="M752.34,830.95 h2.1 l-0.75,2.0 v0.60 h-0.6 v-0.60 z" fill="#1a1a1a"/><path d="M747.74,833.55 h2.1 l-0.75,2.0 v0.60 h-0.6 v-0.60 z" fill="#1a1a1a"/><path d="M750.04,833.55 h2.1 l-0.75,2.0 v0.60 h-0.6 v-0.60 z" fill="#1a1a1a"/><path d="M752.34,833.55 h2.1 l-0.75,2.0 v0.60 h-0.6 v-0.60 z" fill="#1a1a1a"/><path d="M748.89,836.15 h2.1 l-0.75,2.0 v0.60 h-0.6 v-0.60 z" fill="#1a1a1a"/><path d="M751.19,836.15 h2.1 l-0.75,2.0 v0.60 h-0.6 v-0.60 z" fill="#1a1a1a"/>
<path d="M744.75,819.80 h2.1 l-0.75,2.0 v0.60 h-0.6 v-0.60 z" fill="#1a1a1a"/><path d="M747.05,819.80 h2.1 l-0.75,2.0 v0.60 h-0.6 v-0.60 z" fill="#1a1a1a"/><path d="M749.35,819.80 h2.1 l-0.75,2.0 v0.60 h-0.6 v-0.60 z" fill="#1a1a1a"/><path d="M744.75,822.40 h2.1 l-0.75,2.0 v0.60 h-0.6 v-0.60 z" fill="#1a1a1a"/><path d="M747.05,822.40 h2.1 l-0.75,2.0 v0.60 h-0.6 v-0.60 z" fill="#1a1a1a"/><path d="M749.35,822.40 h2.1 l-0.75,2.0 v0.60 h-0.6 v-0.60 z" fill="#1a1a1a"/><path d="M744.75,825.00 h2.1 l-0.75,2.0 v0.60 h-0.6 v-0.60 z" fill="#1a1a1a"/><path d="M747.05,825.00 h2.1 l-0.75,2.0 v0.60 h-0.6 v-0.60 z" fill="#1a1a1a"/><path d="M749.35,825.00 h2.1 l-0.75,2.0 v0.60 h-0.6 v-0.60 z" fill="#1a1a1a"/>
<path d="M751.99,810.35 l-2.4,2.2 l2.4,2.2" fill="none" stroke="#1a1a1a" stroke-width="0.7"/>
<path d="M759.00,802.19 l-2.4,2.2 l2.4,2.2" fill="none" stroke="#1a1a1a" stroke-width="0.7"/><path d="M759.70,802.09 h2.1 l-0.75,2.0 v2.60 h-0.6 v-2.60 z" fill="#1a1a1a"/>
<path d="M769.00,799.20 l-2.4,2.2 l2.4,2.2" fill="none" stroke="#1a1a1a" stroke-width="0.7"/><path d="M769.70,799.10 h2.1 l-0.75,2.0 v2.60 h-0.6 v-2.60 z" fill="#1a1a1a"/><path d="M772.00,799.10 h2.1 l-0.75,2.0 v2.60 h-0.6 v-2.60 z" fill="#1a1a1a"/>
<text x="770.4" y="751.5" font-size="10.4" class="se" fill="#e8772e" text-anchor="middle" textLength="30" lengthAdjust="spacingAndGlyphs" >Sunday</text>
<g transform="translate(712.8,776.8) rotate(-50)"><text x="0" y="3.264" font-size="10.2" class="se" fill="#8a8a8a" text-anchor="middle" >Monday</text></g>
<g transform="translate(831.2,779) rotate(50)"><text x="0" y="3.264" font-size="10.2" class="se" fill="#2a2a2a" text-anchor="middle" >Saturday</text></g>
<g transform="translate(845,838.6) rotate(-75)"><text x="0" y="3.264" font-size="10.2" class="se" fill="#2a2a2a" text-anchor="middle" >Friday</text></g>
<g transform="translate(699,841.8) rotate(75)"><text x="0" y="3.264" font-size="10.2" class="se" fill="#b03a90" text-anchor="middle" >Tuesday</text></g>
<g transform="translate(737.4,889.8) rotate(35)"><text x="0" y="3.264" font-size="10.2" class="se" fill="#2a5fb0" text-anchor="middle" >Wednesday</text></g>
<g transform="translate(803,889.8) rotate(-35)"><text x="0" y="3.264" font-size="10.2" class="se" fill="#2a2a80" text-anchor="middle" >Thursday</text></g>
<text x="810.4" y="730.4" font-size="7.8" class="sa" fill="#111" text-anchor="middle" >Sun</text><text x="810.4" y="739.4" font-size="7.8" class="sa" fill="#111" text-anchor="middle" >Shamash</text>
<text x="665.8" y="783.8" font-size="7.8" class="sa" fill="#111" text-anchor="middle" >Moon</text><text x="665.8" y="793.1" font-size="7.8" class="sa" fill="#111" text-anchor="middle" >Nannar</text><text x="665.8" y="802" font-size="7.8" class="sa" fill="#111" text-anchor="middle" >(Sin)</text>
<text x="655.2" y="839.8" font-size="7.8" class="sa" fill="#111" text-anchor="middle" >Mars</text><text x="655.2" y="849.1" font-size="7.8" class="sa" fill="#111" text-anchor="middle" >Nergal</text>
<text x="669.6" y="883" font-size="7.8" class="sa" fill="#111" text-anchor="middle" >Mercury</text><text x="669.6" y="892" font-size="7.8" class="sa" fill="#111" text-anchor="middle" >Nabu</text>
<text x="877.6" y="787" font-size="7.8" class="sa" fill="#111" text-anchor="middle" >Saturn</text><text x="877.6" y="796.3" font-size="7.8" class="sa" fill="#111" text-anchor="middle" >Ninnurta</text>
<text x="896.8" y="841.4" font-size="7.8" class="sa" fill="#1a78d0" text-anchor="middle" >Venus</text><text x="896.8" y="850.7" font-size="7.8" class="sa" fill="#1a78d0" text-anchor="middle" >Ishtar</text>
<text x="862.2" y="883" font-size="7.8" class="sa" fill="#111" text-anchor="middle" >Jupiter</text><text x="862.2" y="892" font-size="7.8" class="sa" fill="#111" text-anchor="middle" >Mardukh</text>
<path d="M772.6,721.9 Q775.3,718.5 775.8,714.2" stroke="#e2308c" stroke-width="2.5" fill="none" stroke-linecap="round"/>
<path d="M776.1,725.4 Q780.4,724.9 783.8,722.2" stroke="#e2308c" stroke-width="2.5" fill="none" stroke-linecap="round"/>
<path d="M776.1,730.4 Q779.5,733.1 783.8,733.6" stroke="#e2308c" stroke-width="2.5" fill="none" stroke-linecap="round"/>
<path d="M772.6,733.9 Q773.1,738.2 775.8,741.6" stroke="#e2308c" stroke-width="2.5" fill="none" stroke-linecap="round"/>
<path d="M767.6,733.9 Q764.9,737.3 764.4,741.6" stroke="#e2308c" stroke-width="2.5" fill="none" stroke-linecap="round"/>
<path d="M764.1,730.4 Q759.8,730.9 756.4,733.6" stroke="#e2308c" stroke-width="2.5" fill="none" stroke-linecap="round"/>
<path d="M764.1,725.4 Q760.7,722.7 756.4,722.2" stroke="#e2308c" stroke-width="2.5" fill="none" stroke-linecap="round"/>
<path d="M767.6,721.9 Q767.1,717.6 764.4,714.2" stroke="#e2308c" stroke-width="2.5" fill="none" stroke-linecap="round"/>
<polygon points="768.7,722.3 770.1,713.3 771.5,722.3 773.1,722.9 780.4,717.6 775.1,724.9 775.7,726.5 784.7,727.9 775.7,729.3 775.1,730.9 780.4,738.2 773.1,732.9 771.5,733.5 770.1,742.5 768.7,733.5 767.1,732.9 759.8,738.2 765.1,730.9 764.5,729.3 755.5,727.9 764.5,726.5 765.1,724.9 759.8,717.6 767.1,722.9" fill="#f58a1e"/>
<circle cx="770.1" cy="727.9" r="6.1" fill="#ffeb12"/>
<circle cx="694.4" cy="761.8" r="14.5" fill="#1b8be6"/>
<circle cx="698.4" cy="760.1999999999999" r="10.6" fill="#ffffff"/>
<line x1="697.6" y1="758.7" x2="698.5" y2="752.5" stroke="#c8207e" stroke-width="1.5" stroke-linecap="round"/>
<line x1="698.3" y1="759.0" x2="702.2" y2="754.1" stroke="#c8207e" stroke-width="1.5" stroke-linecap="round"/>
<line x1="698.8" y1="759.6" x2="704.6" y2="757.3" stroke="#c8207e" stroke-width="1.5" stroke-linecap="round"/>
<line x1="698.9" y1="760.4" x2="705.1" y2="761.3" stroke="#c8207e" stroke-width="1.5" stroke-linecap="round"/>
<line x1="698.6" y1="761.1" x2="703.5" y2="765.0" stroke="#c8207e" stroke-width="1.5" stroke-linecap="round"/>
<line x1="698.0" y1="761.6" x2="700.3" y2="767.4" stroke="#c8207e" stroke-width="1.5" stroke-linecap="round"/>
<line x1="697.2" y1="761.7" x2="696.3" y2="767.9" stroke="#c8207e" stroke-width="1.5" stroke-linecap="round"/>
<line x1="696.5" y1="761.4" x2="692.6" y2="766.3" stroke="#c8207e" stroke-width="1.5" stroke-linecap="round"/>
<line x1="696.0" y1="760.8" x2="690.2" y2="763.1" stroke="#c8207e" stroke-width="1.5" stroke-linecap="round"/>
<line x1="695.9" y1="760.0" x2="689.7" y2="759.1" stroke="#c8207e" stroke-width="1.5" stroke-linecap="round"/>
<line x1="696.2" y1="759.3" x2="691.3" y2="755.4" stroke="#c8207e" stroke-width="1.5" stroke-linecap="round"/>
<line x1="696.8" y1="758.8" x2="694.5" y2="753.0" stroke="#c8207e" stroke-width="1.5" stroke-linecap="round"/>
<circle cx="697.4" cy="760.1999999999999" r="3.2" fill="#b01c70"/>
<polygon points="675.5,826.5 677.5,830.0 680.5,830.5 682.0,833.5 680.0,835.0 682.5,839.0 684.0,845.0 684.0,853.0 685.5,859.0 681.0,860.5 681.5,857.0 678.5,849.0 675.0,841.0 673.5,835.0 675.0,831.0" fill="#b4653a" stroke="#c8283c" stroke-width="0.9" stroke-linejoin="round"/>
<path d="M692,880.5 Q697,879.6 700.5,878.4 Q699.6,881 700.2,883.4 L712,895 L711.2,895.8 Q700,885 692,880.5 Z" fill="#1b7bd4"/>
<rect x="-5.2" y="-5.2" width="10.4" height="10.4" transform="translate(715,898) rotate(-36)" fill="#7a5230"/>
<g transform="translate(715,898) rotate(-36)"><path d="M-5.2,-2H5.2M-5.2,1.4H5.2" stroke="#8e6440" stroke-width="0.7"/></g>
<g transform="translate(833,762.4) rotate(46)"><rect x="-3" y="-2.2" width="6" height="4.4" fill="#b8b8c0" stroke="#707078" stroke-width="0.5"/><path d="M-1.5,-2.2V2.2M0,-2.2V2.2M1.5,-2.2V2.2" stroke="#707078" stroke-width="0.4"/></g>
<line x1="834.2" y1="763.6" x2="849" y2="779" stroke="#8c8a1c" stroke-width="1.7"/><line x1="834.2" y1="763.6" x2="849" y2="779" stroke="#d8d422" stroke-width="0.9"/>
<path d="M851.8,781 l-5.4,-1.6 l1.8,-0.9 l0.7,-2.1 z" fill="#111"/>
<polygon points="867.2,828.2 869.6,840.4 881.8,842.8 869.6,845.2 867.2,857.4 864.8,845.2 852.6,842.8 864.8,840.4" fill="#e4f1fb" stroke="#2a8ae4" stroke-width="0.8" stroke-linejoin="miter"/>
<polygon points="876.1,833.9 870.6,842.8 876.1,851.7 867.2,846.2 858.3,851.7 863.8,842.8 858.3,833.9 867.2,839.4" fill="#e4f1fb" stroke="#2a8ae4" stroke-width="0.8" stroke-linejoin="miter"/>
<circle cx="867.2" cy="842.8" r="2.6" fill="#b8cfe4" stroke="#6a9ad0" stroke-width="0.5"/><circle cx="867.2" cy="842.8" r="1" fill="#3a5a9a"/>
<g transform="translate(815,902.2) rotate(-42.8)"><path d="M0,-2 L24,-2 L19,-8 L33.5,0 L19,8 L24,2 L0,2 Z" fill="#b47c6a" stroke="#5c3a30" stroke-width="0.8" stroke-linejoin="round"/><path d="M1,0H24" stroke="#8a5a4a" stroke-width="0.6"/></g>
<text x="636.0" y="918.6" font-size="10.3" class="se" fill="#1a1a1a" textLength="260.0" lengthAdjust="spacingAndGlyphs" xml:space="preserve">Week  Sapattu<tspan font-size="6" dy="-3">m</tspan><tspan dy="3"> or Sabattu</tspan><tspan font-size="6" dy="-3">m</tspan><tspan dy="3"> 12 Double-hour Unit (bēru) = 24 Current</tspan></text>
<text x="628.6" y="934.0" font-size="10.3" class="se" fill="#1a1a1a" textLength="275.2" lengthAdjust="spacingAndGlyphs" >hours ūmu. This unit of time was equivalent to 30° of the Sun's movement</text>
<text x="682.4" y="948.0" font-size="10.3" class="se" fill="#1a1a1a" textLength="167.4" lengthAdjust="spacingAndGlyphs" >around the Earth (360° divided by 12 is 30°).</text>
<path d="M101.15,1009.75H182.95V1012.75H188.35V1050.05H182.95V1053.05H101.15V1050.05H95.75V1012.75H101.15Z" fill="#a8d7c1" stroke="#3fa877" stroke-width="0.9"/><path d="M103.00,1011.60H181.10V1014.60H186.50V1048.20H181.10V1051.20H103.00V1048.20H97.60V1014.60H103.00Z" fill="#ffffff" stroke="#3fa877" stroke-width="0.8"/>
<text x="142" y="1038.6" font-size="17.5" class="se" fill="#111" text-anchor="middle" textLength="41" lengthAdjust="spacingAndGlyphs" >Name</text>
<path d="M101.15,1068.45H182.95V1071.45H188.35V1107.75H182.95V1110.75H101.15V1107.75H95.75V1071.45H101.15Z" fill="#a8d7c1" stroke="#3fa877" stroke-width="0.9"/><path d="M103.00,1070.30H181.10V1073.30H186.50V1105.90H181.10V1108.90H103.00V1105.90H97.60V1073.30H103.00Z" fill="#ffffff" stroke="#3fa877" stroke-width="0.8"/>
<path d="M101.15,1123.15H182.95V1126.15H188.35V1161.35H182.95V1164.35H101.15V1161.35H95.75V1126.15H101.15Z" fill="#a8d7c1" stroke="#3fa877" stroke-width="0.9"/><path d="M103.00,1125.00H181.10V1128.00H186.50V1159.50H181.10V1162.50H103.00V1159.50H97.60V1128.00H103.00Z" fill="#ffffff" stroke="#3fa877" stroke-width="0.8"/>
<path d="M101.15,1177.05H182.95V1180.05H188.35V1215.95H182.95V1218.95H101.15V1215.95H95.75V1180.05H101.15Z" fill="#a8d7c1" stroke="#3fa877" stroke-width="0.9"/><path d="M103.00,1178.90H181.10V1181.90H186.50V1214.10H181.10V1217.10H103.00V1214.10H97.60V1181.90H103.00Z" fill="#ffffff" stroke="#3fa877" stroke-width="0.8"/>
<path d="M101.15,1230.95H182.95V1233.95H188.35V1270.15H182.95V1273.15H101.15V1270.15H95.75V1233.95H101.15Z" fill="#a8d7c1" stroke="#3fa877" stroke-width="0.9"/><path d="M103.00,1232.80H181.10V1235.80H186.50V1268.30H181.10V1271.30H103.00V1268.30H97.60V1235.80H103.00Z" fill="#ffffff" stroke="#3fa877" stroke-width="0.8"/>
<text x="141.8" y="1087" font-size="17.3" class="se" fill="#111" text-anchor="middle" textLength="75" lengthAdjust="spacingAndGlyphs" >Cuneiform</text>
<text x="121" y="1105.6" font-size="12" class="se i" fill="#111" text-anchor="middle" textLength="23.5" lengthAdjust="spacingAndGlyphs" >Ūmu</text>
<text x="158.5" y="1105.6" font-size="12" class="se i" fill="#111" text-anchor="middle" textLength="21" lengthAdjust="spacingAndGlyphs" >Day</text>
<path d="M138.50,1091.00L144.50,1091.00L141.50,1097.90ZM134.37,1094.80L136.23,1092.20L138.29,1095.65ZM135.95,1092.69L137.85,1090.11L139.87,1093.58Z" fill="#1a5ab0"/><path d="M141.50,1094.45L141.50,1107.00M136.79,1094.57L138.50,1095.80M138.38,1092.49L139.90,1093.60" stroke="#1a5ab0" stroke-width="0.8" fill="none"/>
<text x="141.8" y="1139.8" font-size="15.4" class="se" fill="#111" text-anchor="middle" textLength="48.7" lengthAdjust="spacingAndGlyphs" >Modern</text>
<text x="141.8" y="1158.4" font-size="17.2" class="se" fill="#111" text-anchor="middle" textLength="65" lengthAdjust="spacingAndGlyphs" >Chaldean</text>
<text x="106" y="1194" class="se" fill="#111" font-size="16.6" textLength="71.4" lengthAdjust="spacingAndGlyphs">Deity <tspan font-size="11.8">Sacred</tspan></text>
<text x="141.8" y="1209.5" font-size="15.2" class="se" fill="#111" text-anchor="middle" textLength="46.5" lengthAdjust="spacingAndGlyphs" >Number</text>
<text x="99.3" y="1251.4" class="se" fill="#111" font-size="16" textLength="85.2" lengthAdjust="spacingAndGlyphs">Divinity <tspan font-size="8.6" font-weight="bold">Symbol</tspan></text>
<text x="99.3" y="1265.4" class="se" fill="#111" font-size="12.6" textLength="84.3" lengthAdjust="spacingAndGlyphs"><tspan font-size="9">&amp;</tspan> Celestial Body</text>
<linearGradient id="pGold" x1="0" x2="1" y1="0" y2="0"><stop offset="0" stop-color="#c3b233"/><stop offset="0.5" stop-color="#e3db7a"/><stop offset="1" stop-color="#c3b233"/></linearGradient>
<linearGradient id="pSilver" x1="0" x2="1" y1="0" y2="0"><stop offset="0" stop-color="#8b8b8b"/><stop offset="0.5" stop-color="#d2d2d2"/><stop offset="1" stop-color="#8b8b8b"/></linearGradient>
<path d="M203.95,989.85H277.05V993.05H282.45V1051.15H277.05V1054.35H203.95V1051.15H198.55V993.05H203.95Z" fill="#f1eff1" stroke="#8c7f90" stroke-width="1.0"/><path d="M206.00,991.90H275.00V995.10H280.40V1049.10H275.00V1052.30H206.00V1049.10H200.60V995.10H206.00Z" fill="#ffffff" stroke="#8c7f90" stroke-width="0.8"/>
<text x="240.5" y="1017.4" font-size="14.6" class="se b" fill="#3c3c3c" text-anchor="middle" textLength="46" lengthAdjust="spacingAndGlyphs" >Sunday</text>
<rect x="208.5" y="1023.8" width="64.0" height="18.7" rx="4.5" fill="url(#pGold)"/>
<text x="240.5" y="1037.6" font-size="13.4" class="se i" fill="#6b6320" text-anchor="middle" textLength="25" lengthAdjust="spacingAndGlyphs" >Gold</text>
<path d="M307.05,989.85H380.15V993.05H385.55V1051.15H380.15V1054.35H307.05V1051.15H301.65V993.05H307.05Z" fill="#f0f0f0" stroke="#8a8a8a" stroke-width="1.0"/><path d="M309.10,991.90H378.10V995.10H383.50V1049.10H378.10V1052.30H309.10V1049.10H303.70V995.10H309.10Z" fill="#ffffff" stroke="#8a8a8a" stroke-width="0.8"/>
<text x="343.6" y="1017.4" font-size="14.6" class="se b" fill="#5b7183" text-anchor="middle" textLength="51.2" lengthAdjust="spacingAndGlyphs" >Monday</text>
<rect x="311.6" y="1023.8" width="64.0" height="18.7" rx="4.5" fill="url(#pSilver)"/>
<text x="343.6" y="1037.6" font-size="13.4" class="se i" fill="#5a5a5a" text-anchor="middle" textLength="30" lengthAdjust="spacingAndGlyphs" >Silver</text>
<path d="M410.45,989.85H483.55V993.05H488.95V1051.15H483.55V1054.35H410.45V1051.15H405.05V993.05H410.45Z" fill="#fbe8ef" stroke="#e0407a" stroke-width="1.0"/><path d="M412.50,991.90H481.50V995.10H486.90V1049.10H481.50V1052.30H412.50V1049.10H407.10V995.10H412.50Z" fill="#ffffff" stroke="#e0407a" stroke-width="0.8"/>
<text x="447.0" y="1017.4" font-size="14.6" class="se b" fill="#d3175a" text-anchor="middle" textLength="51" lengthAdjust="spacingAndGlyphs" >Tuesday</text>
<rect x="415.0" y="1023.8" width="64.0" height="18.7" rx="4.5" fill="#d3175f"/>
<text x="447.0" y="1037.6" font-size="13.4" class="se i" fill="#ffffff" text-anchor="middle" textLength="44" lengthAdjust="spacingAndGlyphs" >Crimson</text>
<path d="M514.45,989.85H587.55V993.05H592.95V1051.15H587.55V1054.35H514.45V1051.15H509.05V993.05H514.45Z" fill="#e6edf6" stroke="#2f6fb5" stroke-width="1.0"/><path d="M516.50,991.90H585.50V995.10H590.90V1049.10H585.50V1052.30H516.50V1049.10H511.10V995.10H516.50Z" fill="#ffffff" stroke="#2f6fb5" stroke-width="0.8"/>
<text x="551.0" y="1017.4" font-size="14.6" class="se b" fill="#0b4a8c" text-anchor="middle" textLength="71" lengthAdjust="spacingAndGlyphs" >Wednesday</text>
<rect x="519.0" y="1023.8" width="64.0" height="18.7" rx="4.5" fill="#3d9cbb"/>
<text x="551.0" y="1037.6" font-size="13.4" class="se i" fill="#0b3a6c" text-anchor="middle" textLength="23" lengthAdjust="spacingAndGlyphs" >Blue</text>
<path d="M617.05,989.85H690.15V993.05H695.55V1051.15H690.15V1054.35H617.05V1051.15H611.65V993.05H617.05Z" fill="#e8e8ef" stroke="#45457e" stroke-width="1.0"/><path d="M619.10,991.90H688.10V995.10H693.50V1049.10H688.10V1052.30H619.10V1049.10H613.70V995.10H619.10Z" fill="#ffffff" stroke="#45457e" stroke-width="0.8"/>
<text x="653.6" y="1017.4" font-size="14.6" class="se b" fill="#17174f" text-anchor="middle" textLength="59" lengthAdjust="spacingAndGlyphs" >Thursday</text>
<rect x="621.6" y="1023.8" width="64.0" height="18.7" rx="4.5" fill="#1b1559"/>
<text x="653.6" y="1037.6" font-size="13.4" class="se i" fill="#c9c9e6" text-anchor="middle" textLength="35" lengthAdjust="spacingAndGlyphs" >Purple</text>
<path d="M719.45,989.85H792.55V993.05H797.95V1051.15H792.55V1054.35H719.45V1051.15H714.05V993.05H719.45Z" fill="#f1f1f1" stroke="#8d8d8d" stroke-width="1.0"/><path d="M721.50,991.90H790.50V995.10H795.90V1049.10H790.50V1052.30H721.50V1049.10H716.10V995.10H721.50Z" fill="#ffffff" stroke="#8d8d8d" stroke-width="0.8"/>
<text x="756.0" y="1017.4" font-size="14.6" class="se b" fill="#6e6e6e" text-anchor="middle" textLength="42" lengthAdjust="spacingAndGlyphs" >Friday</text>
<rect x="724.0" y="1023.8" width="64.0" height="18.7" rx="4.5" fill="#ffffff" stroke="#9a9a9a" stroke-width="0.9"/>
<text x="756.0" y="1037.6" font-size="13.4" class="se i" fill="#eaf3fb" text-anchor="middle" textLength="30" lengthAdjust="spacingAndGlyphs" stroke="#7fb0de" stroke-width="0.7">White</text>
<path d="M823.65,989.85H896.75V993.05H902.15V1051.15H896.75V1054.35H823.65V1051.15H818.25V993.05H823.65Z" fill="#ebebeb" stroke="#5a5a5a" stroke-width="1.0"/><path d="M825.70,991.90H894.70V995.10H900.10V1049.10H894.70V1052.30H825.70V1049.10H820.30V995.10H825.70Z" fill="#ffffff" stroke="#5a5a5a" stroke-width="0.8"/>
<text x="860.1999999999999" y="1017.4" font-size="14.6" class="se b" fill="#111111" text-anchor="middle" textLength="60" lengthAdjust="spacingAndGlyphs" >Saturday</text>
<rect x="828.1999999999999" y="1023.8" width="64.0" height="18.7" rx="4.5" fill="#0e0e0e"/>
<text x="860.1999999999999" y="1037.6" font-size="13.4" class="se i" fill="#ffffff" text-anchor="middle" textLength="30" lengthAdjust="spacingAndGlyphs" >Black</text>
<path d="M204.65,1068.45H285.35V1071.45H290.75V1107.75H285.35V1110.75H204.65V1107.75H199.25V1071.45H204.65Z" fill="#a8d7c1" stroke="#3fa877" stroke-width="0.9"/><path d="M206.50,1070.30H283.50V1073.30H288.90V1105.90H283.50V1108.90H206.50V1105.90H201.10V1073.30H206.50Z" fill="#ffffff" stroke="#3fa877" stroke-width="0.8"/>
<path d="M306.80,1068.45H387.50V1071.45H392.90V1107.75H387.50V1110.75H306.80V1107.75H301.40V1071.45H306.80Z" fill="#a8d7c1" stroke="#3fa877" stroke-width="0.9"/><path d="M308.65,1070.30H385.65V1073.30H391.05V1105.90H385.65V1108.90H308.65V1105.90H303.25V1073.30H308.65Z" fill="#ffffff" stroke="#3fa877" stroke-width="0.8"/>
<path d="M408.95,1068.45H489.65V1071.45H495.05V1107.75H489.65V1110.75H408.95V1107.75H403.55V1071.45H408.95Z" fill="#a8d7c1" stroke="#3fa877" stroke-width="0.9"/><path d="M410.80,1070.30H487.80V1073.30H493.20V1105.90H487.80V1108.90H410.80V1105.90H405.40V1073.30H410.80Z" fill="#ffffff" stroke="#3fa877" stroke-width="0.8"/>
<path d="M511.10,1068.45H591.80V1071.45H597.20V1107.75H591.80V1110.75H511.10V1107.75H505.70V1071.45H511.10Z" fill="#a8d7c1" stroke="#3fa877" stroke-width="0.9"/><path d="M512.95,1070.30H589.95V1073.30H595.35V1105.90H589.95V1108.90H512.95V1105.90H507.55V1073.30H512.95Z" fill="#ffffff" stroke="#3fa877" stroke-width="0.8"/>
<path d="M613.25,1068.45H693.95V1071.45H699.35V1107.75H693.95V1110.75H613.25V1107.75H607.85V1071.45H613.25Z" fill="#a8d7c1" stroke="#3fa877" stroke-width="0.9"/><path d="M615.10,1070.30H692.10V1073.30H697.50V1105.90H692.10V1108.90H615.10V1105.90H609.70V1073.30H615.10Z" fill="#ffffff" stroke="#3fa877" stroke-width="0.8"/>
<path d="M715.40,1068.45H796.10V1071.45H801.50V1107.75H796.10V1110.75H715.40V1107.75H710.00V1071.45H715.40Z" fill="#a8d7c1" stroke="#3fa877" stroke-width="0.9"/><path d="M717.25,1070.30H794.25V1073.30H799.65V1105.90H794.25V1108.90H717.25V1105.90H711.85V1073.30H717.25Z" fill="#ffffff" stroke="#3fa877" stroke-width="0.8"/>
<path d="M817.55,1068.45H898.25V1071.45H903.65V1107.75H898.25V1110.75H817.55V1107.75H812.15V1071.45H817.55Z" fill="#a8d7c1" stroke="#3fa877" stroke-width="0.9"/><path d="M819.40,1070.30H896.40V1073.30H901.80V1105.90H896.40V1108.90H819.40V1105.90H814.00V1073.30H819.40Z" fill="#ffffff" stroke="#3fa877" stroke-width="0.8"/>
<path d="M204.65,1123.15H285.35V1126.15H290.75V1161.35H285.35V1164.35H204.65V1161.35H199.25V1126.15H204.65Z" fill="#a8d7c1" stroke="#3fa877" stroke-width="0.9"/><path d="M206.50,1125.00H283.50V1128.00H288.90V1159.50H283.50V1162.50H206.50V1159.50H201.10V1128.00H206.50Z" fill="#ffffff" stroke="#3fa877" stroke-width="0.8"/>
<path d="M306.80,1123.15H387.50V1126.15H392.90V1161.35H387.50V1164.35H306.80V1161.35H301.40V1126.15H306.80Z" fill="#a8d7c1" stroke="#3fa877" stroke-width="0.9"/><path d="M308.65,1125.00H385.65V1128.00H391.05V1159.50H385.65V1162.50H308.65V1159.50H303.25V1128.00H308.65Z" fill="#ffffff" stroke="#3fa877" stroke-width="0.8"/>
<path d="M408.95,1123.15H489.65V1126.15H495.05V1161.35H489.65V1164.35H408.95V1161.35H403.55V1126.15H408.95Z" fill="#a8d7c1" stroke="#3fa877" stroke-width="0.9"/><path d="M410.80,1125.00H487.80V1128.00H493.20V1159.50H487.80V1162.50H410.80V1159.50H405.40V1128.00H410.80Z" fill="#ffffff" stroke="#3fa877" stroke-width="0.8"/>
<path d="M511.10,1123.15H591.80V1126.15H597.20V1161.35H591.80V1164.35H511.10V1161.35H505.70V1126.15H511.10Z" fill="#a8d7c1" stroke="#3fa877" stroke-width="0.9"/><path d="M512.95,1125.00H589.95V1128.00H595.35V1159.50H589.95V1162.50H512.95V1159.50H507.55V1128.00H512.95Z" fill="#ffffff" stroke="#3fa877" stroke-width="0.8"/>
<path d="M613.25,1123.15H693.95V1126.15H699.35V1161.35H693.95V1164.35H613.25V1161.35H607.85V1126.15H613.25Z" fill="#a8d7c1" stroke="#3fa877" stroke-width="0.9"/><path d="M615.10,1125.00H692.10V1128.00H697.50V1159.50H692.10V1162.50H615.10V1159.50H609.70V1128.00H615.10Z" fill="#ffffff" stroke="#3fa877" stroke-width="0.8"/>
<path d="M715.40,1123.15H796.10V1126.15H801.50V1161.35H796.10V1164.35H715.40V1161.35H710.00V1126.15H715.40Z" fill="#a8d7c1" stroke="#3fa877" stroke-width="0.9"/><path d="M717.25,1125.00H794.25V1128.00H799.65V1159.50H794.25V1162.50H717.25V1159.50H711.85V1128.00H717.25Z" fill="#ffffff" stroke="#3fa877" stroke-width="0.8"/>
<path d="M817.55,1123.15H898.25V1126.15H903.65V1161.35H898.25V1164.35H817.55V1161.35H812.15V1126.15H817.55Z" fill="#a8d7c1" stroke="#3fa877" stroke-width="0.9"/><path d="M819.40,1125.00H896.40V1128.00H901.80V1159.50H896.40V1162.50H819.40V1159.50H814.00V1128.00H819.40Z" fill="#ffffff" stroke="#3fa877" stroke-width="0.8"/>
<path d="M204.65,1177.05H285.35V1180.05H290.75V1215.95H285.35V1218.95H204.65V1215.95H199.25V1180.05H204.65Z" fill="#a8d7c1" stroke="#3fa877" stroke-width="0.9"/><path d="M206.50,1178.90H283.50V1181.90H288.90V1214.10H283.50V1217.10H206.50V1214.10H201.10V1181.90H206.50Z" fill="#ffffff" stroke="#3fa877" stroke-width="0.8"/>
<path d="M306.80,1177.05H387.50V1180.05H392.90V1215.95H387.50V1218.95H306.80V1215.95H301.40V1180.05H306.80Z" fill="#a8d7c1" stroke="#3fa877" stroke-width="0.9"/><path d="M308.65,1178.90H385.65V1181.90H391.05V1214.10H385.65V1217.10H308.65V1214.10H303.25V1181.90H308.65Z" fill="#ffffff" stroke="#3fa877" stroke-width="0.8"/>
<path d="M408.95,1177.05H489.65V1180.05H495.05V1215.95H489.65V1218.95H408.95V1215.95H403.55V1180.05H408.95Z" fill="#a8d7c1" stroke="#3fa877" stroke-width="0.9"/><path d="M410.80,1178.90H487.80V1181.90H493.20V1214.10H487.80V1217.10H410.80V1214.10H405.40V1181.90H410.80Z" fill="#ffffff" stroke="#3fa877" stroke-width="0.8"/>
<path d="M511.10,1177.05H591.80V1180.05H597.20V1215.95H591.80V1218.95H511.10V1215.95H505.70V1180.05H511.10Z" fill="#a8d7c1" stroke="#3fa877" stroke-width="0.9"/><path d="M512.95,1178.90H589.95V1181.90H595.35V1214.10H589.95V1217.10H512.95V1214.10H507.55V1181.90H512.95Z" fill="#ffffff" stroke="#3fa877" stroke-width="0.8"/>
<path d="M613.25,1177.05H693.95V1180.05H699.35V1215.95H693.95V1218.95H613.25V1215.95H607.85V1180.05H613.25Z" fill="#a8d7c1" stroke="#3fa877" stroke-width="0.9"/><path d="M615.10,1178.90H692.10V1181.90H697.50V1214.10H692.10V1217.10H615.10V1214.10H609.70V1181.90H615.10Z" fill="#ffffff" stroke="#3fa877" stroke-width="0.8"/>
<path d="M715.40,1177.05H796.10V1180.05H801.50V1215.95H796.10V1218.95H715.40V1215.95H710.00V1180.05H715.40Z" fill="#a8d7c1" stroke="#3fa877" stroke-width="0.9"/><path d="M717.25,1178.90H794.25V1181.90H799.65V1214.10H794.25V1217.10H717.25V1214.10H711.85V1181.90H717.25Z" fill="#ffffff" stroke="#3fa877" stroke-width="0.8"/>
<path d="M817.55,1177.05H898.25V1180.05H903.65V1215.95H898.25V1218.95H817.55V1215.95H812.15V1180.05H817.55Z" fill="#a8d7c1" stroke="#3fa877" stroke-width="0.9"/><path d="M819.40,1178.90H896.40V1181.90H901.80V1214.10H896.40V1217.10H819.40V1214.10H814.00V1181.90H819.40Z" fill="#ffffff" stroke="#3fa877" stroke-width="0.8"/>
<path d="M204.65,1230.95H285.35V1233.95H290.75V1270.15H285.35V1273.15H204.65V1270.15H199.25V1233.95H204.65Z" fill="#a8d7c1" stroke="#3fa877" stroke-width="0.9"/><path d="M206.50,1232.80H283.50V1235.80H288.90V1268.30H283.50V1271.30H206.50V1268.30H201.10V1235.80H206.50Z" fill="#ffffff" stroke="#3fa877" stroke-width="0.8"/>
<path d="M306.80,1230.95H387.50V1233.95H392.90V1270.15H387.50V1273.15H306.80V1270.15H301.40V1233.95H306.80Z" fill="#a8d7c1" stroke="#3fa877" stroke-width="0.9"/><path d="M308.65,1232.80H385.65V1235.80H391.05V1268.30H385.65V1271.30H308.65V1268.30H303.25V1235.80H308.65Z" fill="#ffffff" stroke="#3fa877" stroke-width="0.8"/>
<path d="M408.95,1230.95H489.65V1233.95H495.05V1270.15H489.65V1273.15H408.95V1270.15H403.55V1233.95H408.95Z" fill="#a8d7c1" stroke="#3fa877" stroke-width="0.9"/><path d="M410.80,1232.80H487.80V1235.80H493.20V1268.30H487.80V1271.30H410.80V1268.30H405.40V1235.80H410.80Z" fill="#ffffff" stroke="#3fa877" stroke-width="0.8"/>
<path d="M511.10,1230.95H591.80V1233.95H597.20V1270.15H591.80V1273.15H511.10V1270.15H505.70V1233.95H511.10Z" fill="#a8d7c1" stroke="#3fa877" stroke-width="0.9"/><path d="M512.95,1232.80H589.95V1235.80H595.35V1268.30H589.95V1271.30H512.95V1268.30H507.55V1235.80H512.95Z" fill="#ffffff" stroke="#3fa877" stroke-width="0.8"/>
<path d="M613.25,1230.95H693.95V1233.95H699.35V1270.15H693.95V1273.15H613.25V1270.15H607.85V1233.95H613.25Z" fill="#a8d7c1" stroke="#3fa877" stroke-width="0.9"/><path d="M615.10,1232.80H692.10V1235.80H697.50V1268.30H692.10V1271.30H615.10V1268.30H609.70V1235.80H615.10Z" fill="#ffffff" stroke="#3fa877" stroke-width="0.8"/>
<path d="M715.40,1230.95H796.10V1233.95H801.50V1270.15H796.10V1273.15H715.40V1270.15H710.00V1233.95H715.40Z" fill="#a8d7c1" stroke="#3fa877" stroke-width="0.9"/><path d="M717.25,1232.80H794.25V1235.80H799.65V1268.30H794.25V1271.30H717.25V1268.30H711.85V1235.80H717.25Z" fill="#ffffff" stroke="#3fa877" stroke-width="0.8"/>
<path d="M817.55,1230.95H898.25V1233.95H903.65V1270.15H898.25V1273.15H817.55V1270.15H812.15V1233.95H817.55Z" fill="#a8d7c1" stroke="#3fa877" stroke-width="0.9"/><path d="M819.40,1232.80H896.40V1235.80H901.80V1268.30H896.40V1271.30H819.40V1268.30H814.00V1235.80H819.40Z" fill="#ffffff" stroke="#3fa877" stroke-width="0.8"/>
<text x="203.4" y="1093.2" font-size="9.8" class="se i" fill="#111" textLength="19.3" lengthAdjust="spacingAndGlyphs" >Umu</text>
<text x="204.6" y="1105.6" class="se i" fill="#111" font-size="13.4" textLength="76.5" lengthAdjust="spacingAndGlyphs">Šamaš /<tspan font-size="8.6">Shamash</tspan></text>
<path d="M226.30,1081.68L226.30,1079.52L228.78,1080.60ZM231.70,1081.68L231.70,1079.52L234.18,1080.60ZM234.82,1074.00L237.82,1074.00L236.32,1077.45ZM249.70,1074.00L255.10,1074.00L252.40,1080.21ZM243.94,1077.18L246.46,1073.82L249.06,1078.40ZM241.85,1081.39L244.35,1078.01L246.99,1082.56Z" fill="#0b409a"/><path d="M227.54,1080.60L232.00,1080.60M232.94,1080.60L238.60,1080.60M236.32,1075.72L236.32,1086.30M252.40,1077.10L252.40,1094.70M247.13,1076.95L251.20,1080.00M245.04,1081.13L248.80,1083.90" stroke="#0b409a" stroke-width="0.85" fill="none"/>
<text x="304.8" y="1095.0" font-size="9.8" class="se i" fill="#111" textLength="19.3" lengthAdjust="spacingAndGlyphs" >Umu</text>
<text x="316.7" y="1107.2" font-size="13.4" class="se i" fill="#111" textLength="62.5" lengthAdjust="spacingAndGlyphs" >Sin/Nannar</text>
<path d="M308.40,1082.08L308.40,1078.77L312.21,1080.42ZM313.13,1082.08L313.13,1078.77L316.94,1080.42ZM316.68,1073.85L320.82,1073.85L318.75,1078.61Z" fill="#0b409a"/><path d="M310.31,1080.42L313.58,1080.42M315.03,1080.42L321.00,1080.42M318.75,1076.23L318.75,1086.00" stroke="#0b409a" stroke-width="0.75" fill="none"/>
<path d="M321.45,1087.83L321.45,1083.27L326.69,1085.55ZM329.15,1077.45L335.36,1077.45L332.25,1084.59ZM334.55,1077.45L340.76,1077.45L337.65,1084.59ZM330.39,1092.98L332.85,1090.18L334.84,1094.41ZM336.24,1092.98L338.70,1090.18L340.69,1094.41ZM345.41,1087.83L345.20,1083.28L350.54,1085.31ZM356.11,1083.78L356.11,1079.22L361.34,1081.50ZM352.50,1092.64L352.50,1087.46L358.46,1090.05ZM367.19,1074.30L373.82,1074.30L370.51,1081.92ZM372.35,1074.30L378.56,1074.30L375.46,1081.44Z" fill="#0b409a"/><path d="M324.07,1085.55L331.80,1085.55M332.25,1081.02L332.25,1091.40M337.65,1081.02L337.65,1091.40M333.23,1093.00L336.75,1096.08M339.08,1093.00L342.60,1096.08M347.92,1085.43L355.21,1085.10M358.72,1081.50L370.06,1081.50M355.48,1090.05L370.06,1090.05M370.51,1078.11L370.51,1095.00M375.46,1077.87L375.46,1095.00" stroke="#0b409a" stroke-width="1.0" fill="none"/>
<text x="408.6" y="1094.6" font-size="9.8" class="se i" fill="#111" textLength="19.3" lengthAdjust="spacingAndGlyphs" >Umu</text>
<text x="428.9" y="1105.0" font-size="13.4" class="se i" fill="#111" textLength="39.1" lengthAdjust="spacingAndGlyphs" >Nergal</text>
<path d="M421.65,1081.54L421.65,1078.23L425.46,1079.88ZM426.06,1081.54L426.06,1078.23L429.87,1079.88ZM429.30,1073.40L433.44,1073.40L431.37,1078.16Z" fill="#0b409a"/><path d="M423.56,1079.88L426.51,1079.88M427.97,1079.88L433.80,1079.88M431.37,1075.78L431.37,1085.55" stroke="#0b409a" stroke-width="0.75" fill="none"/>
<path d="M448.65,1083.78L448.65,1079.22L453.89,1081.50ZM445.05,1092.40L445.05,1086.81L451.48,1089.60ZM459.74,1073.58L466.37,1073.58L463.06,1081.20ZM465.35,1073.58L471.56,1073.58L468.46,1080.72Z" fill="#0b409a"/><path d="M451.27,1081.50L462.61,1081.50M448.27,1089.60L462.61,1089.60M463.06,1077.39L463.06,1094.10M468.46,1077.15L468.46,1094.10" stroke="#0b409a" stroke-width="1.0" fill="none"/>
<polyline points="443.70,1078.35 436.05,1085.10 443.25,1091.58" stroke="#0b409a" stroke-width="0.8" fill="none"/>
<polyline points="436.05,1085.10 439.92,1082.58 439.92,1087.44 436.05,1085.10" stroke="#0b409a" stroke-width="0.3" fill="#0b409a"/>
<text x="513.3" y="1097.3" font-size="9.8" class="se i" fill="#111" textLength="19.3" lengthAdjust="spacingAndGlyphs" >Umu</text>
<text x="531.7" y="1107.2" font-size="13.4" class="se i" fill="#111" textLength="30.8" lengthAdjust="spacingAndGlyphs" >Nabu</text>
<path d="M522.30,1082.71L522.30,1079.40L526.11,1081.05ZM527.16,1082.71L527.16,1079.40L530.97,1081.05ZM530.85,1073.85L534.99,1073.85L532.92,1078.61Z" fill="#0b409a"/><path d="M524.21,1081.05L527.61,1081.05M529.07,1081.05L535.35,1081.05M532.92,1076.23L532.92,1086.00" stroke="#0b409a" stroke-width="0.75" fill="none"/>
<path d="M544.85,1073.85L551.06,1073.85L547.95,1080.99ZM565.76,1073.85L571.55,1073.85L568.66,1080.52ZM551.10,1075.99L551.10,1070.81L557.06,1073.40ZM537.15,1087.20L537.15,1082.64L542.39,1084.92ZM550.20,1086.99L550.20,1082.85L554.97,1084.92ZM559.21,1086.99L559.21,1082.85L563.97,1084.92ZM542.55,1096.87L542.55,1091.69L548.51,1094.28Z" fill="#0b409a"/><path d="M547.95,1077.42L547.95,1094.10M568.66,1077.18L568.66,1094.10M554.08,1073.40L569.11,1073.40M539.77,1084.92L547.50,1084.92M552.59,1084.92L559.21,1084.92M561.59,1084.92L572.71,1084.92M545.53,1094.28L568.66,1094.28" stroke="#0b409a" stroke-width="1.0" fill="none"/>
<text x="611.7" y="1095.0" font-size="9.8" class="se i" fill="#111" textLength="19.3" lengthAdjust="spacingAndGlyphs" >Umu</text>
<text x="628.5" y="1105.0" font-size="13.4" class="se i" fill="#111" textLength="43.1" lengthAdjust="spacingAndGlyphs" >Marduḫ</text>
<path d="M625.65,1083.88L625.65,1080.57L629.46,1082.22ZM630.06,1083.88L630.06,1080.57L633.87,1082.22ZM633.30,1076.10L637.44,1076.10L635.37,1080.86Z" fill="#0b409a"/><path d="M627.56,1082.22L630.51,1082.22M631.97,1082.22L637.80,1082.22M635.37,1078.48L635.37,1087.80" stroke="#0b409a" stroke-width="0.75" fill="none"/>
<path d="M645.90,1084.23L645.90,1079.67L651.14,1081.95ZM645.90,1093.23L645.90,1088.68L651.14,1090.95ZM676.10,1076.28L682.31,1076.28L679.21,1083.42ZM669.60,1080.46L672.61,1076.25L675.95,1081.81ZM667.70,1085.17L670.01,1080.54L674.18,1085.51Z" fill="#0b409a"/><path d="M648.52,1081.95L663.01,1081.95M648.52,1090.95L663.01,1090.95M679.21,1079.85L679.21,1096.80M673.53,1080.08L677.41,1082.85M671.52,1084.18L675.16,1086.00" stroke="#0b409a" stroke-width="1.0" fill="none"/>
<polyline points="645.00,1080.60 639.60,1086.90 645.00,1092.75" stroke="#0b409a" stroke-width="0.8" fill="none"/>
<polyline points="639.60,1086.90 642.48,1085.10 642.48,1088.88 639.60,1086.90" stroke="#0b409a" stroke-width="0.3" fill="#0b409a"/>
<polyline points="664.81,1077.45 660.76,1081.95 665.26,1086.00 663.64,1081.95 664.81,1077.45" stroke="#0b409a" stroke-width="0.6" fill="#0b409a"/>
<polyline points="664.81,1087.35 660.76,1090.95 665.26,1094.55 663.64,1090.95 664.81,1087.35" stroke="#0b409a" stroke-width="0.6" fill="#0b409a"/>
<text x="714.2" y="1094.6" font-size="9.8" class="se i" fill="#111" textLength="19.3" lengthAdjust="spacingAndGlyphs" >Umu</text>
<text x="727.9" y="1105" class="se i" fill="#111" font-size="13.4" textLength="58.9" lengthAdjust="spacingAndGlyphs">Ištaru<tspan font-size="8.2">/Ishtar</tspan></text>
<path d="M727.20,1082.08L727.20,1078.77L731.01,1080.42ZM731.48,1082.08L731.48,1078.77L735.29,1080.42ZM734.58,1074.12L738.72,1074.12L736.65,1078.88Z" fill="#0b409a"/><path d="M729.11,1080.42L731.93,1080.42M733.38,1080.42L738.00,1080.42M736.65,1076.50L736.65,1085.55" stroke="#0b409a" stroke-width="0.75" fill="none"/>
<path d="M740.25,1085.75L740.25,1079.95L746.92,1082.85ZM763.77,1074.12L768.94,1074.12L766.36,1080.07ZM767.37,1074.12L772.54,1074.12L769.96,1080.07ZM771.28,1074.12L775.83,1074.12L773.56,1079.36ZM764.33,1083.30L774.68,1083.30L769.51,1095.00ZM777.02,1074.12L783.23,1074.12L780.13,1081.26Z" fill="#0b409a"/><path d="M743.59,1082.85L765.91,1082.85M766.36,1077.10L766.36,1082.85M769.96,1077.10L769.96,1082.85M773.56,1076.74L773.56,1082.85M769.51,1089.15L769.51,1095.00M780.13,1077.69L780.13,1095.00" stroke="#0b409a" stroke-width="1.0" fill="none"/>
<text x="818.9" y="1095.0" font-size="9.8" class="se i" fill="#111" textLength="19.3" lengthAdjust="spacingAndGlyphs" >Umu</text>
<text x="835.2" y="1105.0" font-size="13.4" class="se i" fill="#111" textLength="44.0" lengthAdjust="spacingAndGlyphs" >Ninurta</text>
<path d="M838.20,1081.18L838.20,1077.86L842.01,1079.52ZM842.25,1081.18L842.25,1077.86L846.06,1079.52ZM845.13,1073.58L849.27,1073.58L847.20,1078.34Z" fill="#0b409a"/><path d="M840.11,1079.52L842.70,1079.52M844.16,1079.52L849.45,1079.52M847.20,1075.96L847.20,1084.65" stroke="#0b409a" stroke-width="0.75" fill="none"/>
<path d="M851.70,1084.99L851.70,1079.81L857.66,1082.40ZM859.61,1073.58L865.40,1073.58L862.50,1080.25Z" fill="#0b409a"/><path d="M854.68,1082.40L862.50,1082.40M862.50,1076.91L862.50,1094.10" stroke="#0b409a" stroke-width="1.0" fill="none"/>
<polyline points="874.66,1076.55 865.66,1085.55 879.61,1090.50 874.66,1076.55" stroke="#0b409a" stroke-width="0.4" fill="#0b409a"/>
<polyline points="879.61,1090.50 882.49,1093.92" stroke="#0b409a" stroke-width="0.9" fill="none"/>
<polyline points="870.61,1082.40 875.11,1084.65" stroke="#fff" stroke-width="1.3" fill="none"/>
<polyline points="871.96,1086.45 877.09,1088.52" stroke="#fff" stroke-width="1.3" fill="none"/>
<text x="210.9" y="1158.8" font-size="13.6" class="se i" fill="#111" textLength="67.6" lengthAdjust="spacingAndGlyphs" >Khabshabta</text>
<path d="M219.2,1137.8 q3.8,-1.3 3.6,1.4 q-0.3,2.0 -3.4,3.6 h5.4" fill="none" stroke="#0a3a80" stroke-width="1.9" stroke-linecap="round" stroke-linejoin="round"/><circle cx="220.2" cy="1134.8" r="0.95" fill="#0a3a80"/><path d="M224.2,1142.8H271.7M225.8,1138.5H233.6V1142.8M246.5,1138.5H254.3V1142.8M259.9,1142.8V1139.2h-2.2M265.8,1142.8V1139.4M271.6,1142.8V1139.0" fill="none" stroke="#0a3a80" stroke-width="2.1" stroke-linejoin="miter" stroke-linecap="butt"/><path d="M235.5,1142.8L240.2,1138.2L244.9,1142.8Z" fill="#0a3a80" stroke="#0a3a80" stroke-width="0.8" stroke-linejoin="round"/><circle cx="259.2" cy="1146.4" r="0.9" fill="#0a3a80"/>
<text x="313.8" y="1158.8" font-size="13.6" class="se i" fill="#111" textLength="62.0" lengthAdjust="spacingAndGlyphs" >Trebshabta</text>
<path d="M317.1,1137.8 q3.8,-1.3 3.6,1.4 q-0.3,2.0 -3.4,3.6 h5.4" fill="none" stroke="#1a6ad0" stroke-width="1.9" stroke-linecap="round" stroke-linejoin="round"/><circle cx="318.1" cy="1134.8" r="0.95" fill="#1a6ad0"/><path d="M322.1,1142.8H375.8M323.7,1138.5H330.8V1142.8M343.0,1138.5H350.0V1142.8M353.7,1142.8V1139.6M358.5,1142.8V1139.6M365.0,1142.8V1139.2h-2.2M375.1,1142.8V1138.5H370.0V1142.8" fill="none" stroke="#1a6ad0" stroke-width="2.1" stroke-linejoin="miter" stroke-linecap="butt"/><path d="M332.7,1142.8L337.0,1138.2L341.4,1142.8Z" fill="#1a6ad0" stroke="#1a6ad0" stroke-width="0.8" stroke-linejoin="round"/><circle cx="364.3" cy="1136.2" r="0.9" fill="#1a6ad0"/><circle cx="346.8" cy="1146.4" r="0.9" fill="#1a6ad0"/>
<text x="413.5" y="1158.8" font-size="13.6" class="se i" fill="#111" textLength="66.0" lengthAdjust="spacingAndGlyphs" >Tlatbshabta</text>
<path d="M419.6,1137.8 q3.8,-1.3 3.6,1.4 q-0.3,2.0 -3.4,3.6 h5.4" fill="none" stroke="#1a6ad0" stroke-width="1.9" stroke-linecap="round" stroke-linejoin="round"/><circle cx="420.6" cy="1134.8" r="0.95" fill="#1a6ad0"/><path d="M424.6,1142.8H478.8M426.2,1138.5H433.4V1142.8M445.7,1138.5H452.9V1142.8M461.8,1142.8V1138.5H456.6V1142.8M469.8,1142.8L464.4,1135.6M478.1,1142.8V1138.5H472.9V1142.8" fill="none" stroke="#1a6ad0" stroke-width="2.1" stroke-linejoin="miter" stroke-linecap="butt"/><path d="M435.3,1142.8L439.7,1138.2L444.1,1142.8Z" fill="#1a6ad0" stroke="#1a6ad0" stroke-width="0.8" stroke-linejoin="round"/><circle cx="449.5" cy="1146.4" r="0.9" fill="#1a6ad0"/>
<text x="517.5" y="1158.8" font-size="13.6" class="se i" fill="#111" textLength="70.5" lengthAdjust="spacingAndGlyphs" >Arb’bshabta</text>
<path d="M522.6,1137.8 q3.8,-1.3 3.6,1.4 q-0.3,2.0 -3.4,3.6 h5.4" fill="none" stroke="#1a6ad0" stroke-width="1.9" stroke-linecap="round" stroke-linejoin="round"/><circle cx="523.6" cy="1134.8" r="0.95" fill="#1a6ad0"/><path d="M527.6,1142.8H584.3M529.2,1138.5H536.5V1142.8M548.9,1138.5H556.2V1142.8M562.3,1142.8L558.9,1139.2M565.4,1138.5H572.7V1142.8M578.1,1142.8V1139.2h-2.2M583.2,1142.8V1139.6" fill="none" stroke="#1a6ad0" stroke-width="2.1" stroke-linejoin="miter" stroke-linecap="butt"/><path d="M538.4,1142.8L542.9,1138.2L547.3,1142.8Z" fill="#1a6ad0" stroke="#1a6ad0" stroke-width="0.8" stroke-linejoin="round"/><circle cx="577.4" cy="1136.2" r="0.9" fill="#1a6ad0"/><circle cx="553.8" cy="1146.4" r="0.9" fill="#1a6ad0"/>
<text x="610.0" y="1158.8" font-size="13.6" class="se i" fill="#111" textLength="86.5" lengthAdjust="spacingAndGlyphs" >Khamshbshabta</text>
<path d="M626.6,1137.8 q3.8,-1.3 3.6,1.4 q-0.3,2.0 -3.4,3.6 h5.4" fill="none" stroke="#1a6ad0" stroke-width="1.9" stroke-linecap="round" stroke-linejoin="round"/><circle cx="627.6" cy="1134.8" r="0.95" fill="#1a6ad0"/><path d="M631.6,1142.8H688.8M633.2,1138.5H640.3V1142.8M652.5,1138.5H659.5V1142.8M679.4,1142.8V1138.5H671.9V1142.8M683.4,1142.8V1139.4M688.7,1142.8V1139.0" fill="none" stroke="#1a6ad0" stroke-width="2.1" stroke-linejoin="miter" stroke-linecap="butt"/><path d="M642.2,1142.8L646.5,1138.2L650.9,1142.8ZM661.4,1142.8L665.8,1138.2L670.1,1142.8Z" fill="#1a6ad0" stroke="#1a6ad0" stroke-width="0.8" stroke-linejoin="round"/><circle cx="658.0" cy="1146.4" r="0.9" fill="#1a6ad0"/>
<text x="739.0" y="1158.8" font-size="13.6" class="se i" fill="#111" textLength="36.2" lengthAdjust="spacingAndGlyphs" >A’ruta</text>
<path d="M734.6,1137.8 q3.8,-1.3 3.6,1.4 q-0.3,2.0 -3.4,3.6 h5.4" fill="none" stroke="#1a6ad0" stroke-width="1.9" stroke-linecap="round" stroke-linejoin="round"/><circle cx="735.6" cy="1134.8" r="0.95" fill="#1a6ad0"/><circle cx="767.4" cy="1140.6" r="1.7" fill="none" stroke="#1a6ad0" stroke-width="1.5"/><path d="M739.6,1142.8H786.8M749.4,1142.8V1138.5H743.1V1142.8M752.7,1138.5H762.0V1142.8M776.5,1142.8V1139.2h-2.2M785.5,1142.8L781.4,1139.2" fill="none" stroke="#1a6ad0" stroke-width="2.1" stroke-linejoin="miter" stroke-linecap="butt"/><circle cx="775.6" cy="1136.2" r="0.9" fill="#1a6ad0"/><circle cx="761.0" cy="1146.4" r="0.9" fill="#1a6ad0"/>
<text x="839.7" y="1158.8" font-size="13.6" class="se i" fill="#111" textLength="38.5" lengthAdjust="spacingAndGlyphs" >Shabta</text>
<path d="M841.4,1137.8 q3.8,-1.3 3.6,1.4 q-0.3,2.0 -3.4,3.6 h5.4" fill="none" stroke="#1a6ad0" stroke-width="1.9" stroke-linecap="round" stroke-linejoin="round"/><circle cx="842.4" cy="1134.8" r="0.95" fill="#1a6ad0"/><path d="M846.4,1142.8H875.8M854.9,1142.8V1138.5H849.5V1142.8M857.8,1138.5H865.3V1142.8" fill="none" stroke="#1a6ad0" stroke-width="2.1" stroke-linejoin="miter" stroke-linecap="butt"/><path d="M867.2,1142.8L871.8,1138.2L876.4,1142.8Z" fill="#1a6ad0" stroke="#1a6ad0" stroke-width="0.8" stroke-linejoin="round"/><circle cx="858.9" cy="1146.4" r="0.9" fill="#1a6ad0"/>
<text x="218" y="1204.3" font-size="15.6" class="se" fill="#111" text-anchor="middle" >20</text>
<path d="M262.00,1186.49L245.00,1204.00M253.70,1204.00L262.70,1213.90" stroke="#555" stroke-width="0.8" fill="none"/><path d="M245.00,1204.00L253.70,1195.30L253.70,1204.00Z" fill="#111"/>
<path d="M276.90,1186.49L259.90,1204.00M268.60,1204.00L277.60,1213.90" stroke="#555" stroke-width="0.8" fill="none"/><path d="M259.90,1204.00L268.60,1195.30L268.60,1204.00Z" fill="#111"/>
<text x="318.2" y="1204.3" font-size="15.6" class="se" fill="#111" text-anchor="middle" >30</text>
<path d="M351.30,1186.49L334.30,1204.00M343.00,1204.00L352.00,1213.90" stroke="#555" stroke-width="0.8" fill="none"/><path d="M334.30,1204.00L343.00,1195.30L343.00,1204.00Z" fill="#111"/>
<path d="M366.10,1186.49L349.10,1204.00M357.80,1204.00L366.80,1213.90" stroke="#555" stroke-width="0.8" fill="none"/><path d="M349.10,1204.00L357.80,1195.30L357.80,1204.00Z" fill="#111"/>
<path d="M379.80,1186.49L362.80,1204.00M371.50,1204.00L380.50,1213.90" stroke="#555" stroke-width="0.8" fill="none"/><path d="M362.80,1204.00L371.50,1195.30L371.50,1204.00Z" fill="#111"/>
<text x="420.6" y="1197" font-size="14.8" class="se" fill="#111" text-anchor="middle" textLength="23.2" lengthAdjust="spacingAndGlyphs" >7x7</text>
<text x="420.3" y="1212.6" font-size="14.8" class="se" fill="#111" text-anchor="middle" >49</text>
<path d="M453.60,1179.52L432.80,1201.28M456.16,1188.48L441.12,1204.80M449.12,1183.68L454.56,1189.76M442.40,1191.36L447.52,1197.12M435.04,1199.68L440.80,1205.12M448.80,1204.48L457.12,1213.12" stroke="#444" stroke-width="0.65" fill="none"/>
<path d="M446.88,1186.56L450.40,1186.56L450.40,1183.04Z" fill="#0a0a0a"/>
<path d="M439.84,1193.92L443.36,1193.92L443.36,1190.40Z" fill="#0a0a0a"/>
<path d="M432.16,1201.60L436.00,1201.60L436.00,1198.08Z" fill="#0a0a0a"/>
<path d="M440.80,1204.48L448.80,1204.48L448.80,1197.44Z" fill="#0a0a0a"/>
<path d="M458.50,1181.40h8.2l-4.1,3.9z" fill="#111"/>
<path d="M467.40,1181.40h8.2l-4.1,3.9z" fill="#111"/>
<path d="M476.10,1181.40h8.2l-4.1,3.9z" fill="#111"/>
<path d="M458.50,1189.40h8.2l-4.1,3.6z" fill="#111"/>
<path d="M467.40,1189.40h8.2l-4.1,3.6z" fill="#111"/>
<path d="M476.10,1189.40h8.2l-4.1,3.6z" fill="#111"/>
<path d="M458.50,1197.10h8.2l-4.1,4.8z" fill="#111"/>
<path d="M466.50,1197.10h8.2l-4.1,4.8z" fill="#111"/>
<path d="M475.10,1197.10h8.2l-4.1,4.8z" fill="#111"/>
<path d="M462.6,1185V1197M471.3,1185V1197M480,1185V1197M462.6,1201.5V1214.4M470.6,1201.5V1214.4M479.2,1201.5V1214.4" stroke="#555" stroke-width="0.8" fill="none"/>
<text x="527.5" y="1203.5" font-size="15.6" class="se" fill="#111" text-anchor="middle" >10</text>
<text x="515.9" y="1214.8" font-size="9.8" class="se i" fill="#111" textLength="56.4" lengthAdjust="spacingAndGlyphs" >Like Marduḫ</text>
<path d="M585.60,1181.98L564.90,1203.30M575.70,1203.30L587.20,1215.95" stroke="#555" stroke-width="0.8" fill="none"/><path d="M564.90,1203.30L575.70,1192.50L575.70,1203.30Z" fill="#111"/>
<text x="627.5" y="1203.5" font-size="15.6" class="se" fill="#111" text-anchor="middle" >10</text>
<path d="M675.50,1180.02L652.90,1203.30M663.70,1203.30L675.70,1216.50" stroke="#555" stroke-width="0.8" fill="none"/><path d="M652.90,1203.30L663.70,1192.50L663.70,1203.30Z" fill="#111"/>
<text x="724" y="1203.7" font-size="15.6" class="se" fill="#111" text-anchor="middle" >15</text>
<path d="M753.90,1181.88L733.40,1203.00M745.00,1203.00L755.30,1214.33" stroke="#555" stroke-width="0.8" fill="none"/><path d="M733.40,1203.00L745.00,1191.40L745.00,1203.00Z" fill="#111"/>
<path d="M756.90,1182.80h11.6l-5.8,6.6z" fill="#111"/>
<path d="M768.60,1182.80h11.6l-5.8,6.6z" fill="#111"/>
<path d="M780.40,1182.80h11.6l-5.8,6.6z" fill="#111"/>
<path d="M762.80,1193.00h11.6l-5.8,6.7z" fill="#111"/>
<path d="M774.50,1193.00h11.6l-5.8,6.7z" fill="#111"/>
<path d="M762.7,1189.4V1193H786.2V1189.4M774.4,1189.4V1193M768.6,1199.7V1216M780.3,1199.7V1216" stroke="#555" stroke-width="0.7" fill="none"/>
<text x="831.7" y="1203.7" font-size="15.6" class="se" fill="#111" text-anchor="middle" >50</text>
<text x="821.7" y="1214.0" font-size="10" class="se i" fill="#111" textLength="42.9" lengthAdjust="spacingAndGlyphs" >Like Enlil</text>
<path d="M884.76,1178.34L863.18,1201.48M893.08,1182.24L869.16,1207.46M880.86,1186.14L885.28,1190.04M873.84,1193.42L878.52,1197.32M866.56,1201.48L870.98,1205.12M886.84,1194.20L893.86,1200.96M874.36,1207.46L881.38,1213.70" stroke="#444" stroke-width="0.65" fill="none"/>
<path d="M877.22,1186.40L880.86,1186.40L880.86,1183.02Z" fill="#0a0a0a"/>
<path d="M870.46,1193.68L874.10,1193.68L874.10,1190.30Z" fill="#0a0a0a"/>
<path d="M862.92,1201.48L866.82,1201.48L866.82,1198.10Z" fill="#0a0a0a"/>
<path d="M881.12,1194.46L887.62,1194.46L887.62,1188.48Z" fill="#0a0a0a"/>
<path d="M868.90,1207.46L874.88,1207.46L874.88,1201.74Z" fill="#0a0a0a"/>
<radialGradient id="bSun" cx="0.5" cy="0.5" r="0.5"><stop offset="0" stop-color="#f7a62a"/><stop offset="0.55" stop-color="#f08a1e"/><stop offset="0.85" stop-color="#ee7d18"/><stop offset="1" stop-color="#f2a23a"/></radialGradient>
<circle cx="225" cy="1252.5" r="19.2" fill="url(#bSun)"/>
<clipPath id="cSun"><circle cx="225" cy="1252.5" r="19.2"/></clipPath>
<g clip-path="url(#cSun)"><ellipse cx="212" cy="1258" rx="8" ry="10" fill="#ffe23a" opacity="0.75"/><ellipse cx="216" cy="1243" rx="6" ry="5" fill="#fbc02e" opacity="0.7"/><ellipse cx="232" cy="1246" rx="9" ry="5" fill="#e9601a" opacity="0.55"/><ellipse cx="235" cy="1258" rx="6" ry="8" fill="#e5551a" opacity="0.5"/><ellipse cx="226" cy="1266" rx="8" ry="4" fill="#ea6a1a" opacity="0.5"/><ellipse cx="228" cy="1252" rx="5" ry="3" fill="#fbd04a" opacity="0.6"/><ellipse cx="222" cy="1238" rx="7" ry="3" fill="#ee7418" opacity="0.5"/></g>
<text x="214" y="1266.5" font-size="9.5" class="se i" fill="#3a2a0a" font-weight="bold">S<tspan font-size="6">un</tspan></text>
<text x="216" y="1259.5" font-size="4.5" class="se i" fill="#3a2a0a">The</text>
<radialGradient id="glowS" cx="0.5" cy="0.5" r="0.5"><stop offset="0" stop-color="#bfe3f8"/><stop offset="0.7" stop-color="#d9eefa"/><stop offset="1" stop-color="#ffffff"/></radialGradient>
<circle cx="267" cy="1252.5" r="21" fill="url(#glowS)"/>
<polygon points="267.4,1244.3 269.2,1234.4 271.8,1235.0 269.8,1244.8 270.5,1245.1 275.5,1237.5 277.6,1238.9 272.5,1246.4 273.1,1247.0 281.4,1241.3 282.8,1243.5 274.4,1249.0 274.7,1249.7 283.6,1247.9 284.1,1250.4 275.2,1252.1 275.2,1252.9 285.1,1254.7 284.5,1257.3 274.7,1255.3 274.4,1256.0 282.0,1261.0 280.6,1263.1 273.1,1258.0 272.5,1258.6 278.2,1266.9 276.0,1268.3 270.5,1259.9 269.8,1260.2 271.6,1269.1 269.1,1269.6 267.4,1260.7 266.6,1260.7 264.8,1270.6 262.2,1270.0 264.2,1260.2 263.5,1259.9 258.5,1267.5 256.4,1266.1 261.5,1258.6 260.9,1258.0 252.6,1263.7 251.2,1261.5 259.6,1256.0 259.3,1255.3 250.4,1257.1 249.9,1254.6 258.8,1252.9 258.8,1252.1 248.9,1250.3 249.5,1247.7 259.3,1249.7 259.6,1249.0 252.0,1244.0 253.4,1241.9 260.9,1247.0 261.5,1246.4 255.8,1238.1 258.0,1236.7 263.5,1245.1 264.2,1244.8 262.4,1235.9 264.9,1235.4 266.6,1244.3" fill="#e8922c" stroke="#d87a1a" stroke-width="0.3"/>
<circle cx="267" cy="1252.5" r="8.2" fill="#f8e6b0"/><circle cx="267" cy="1252.5" r="4.6" fill="#ec962a"/>
<radialGradient id="bMoon" cx="0.45" cy="0.42" r="0.56"><stop offset="0" stop-color="#d0d0dc"/><stop offset="0.5" stop-color="#a4a4b6"/><stop offset="0.82" stop-color="#6a6a80"/><stop offset="1" stop-color="#26263a"/></radialGradient>
<circle cx="328" cy="1252.4" r="13" fill="url(#bMoon)"/>
<clipPath id="cMoon"><circle cx="328" cy="1252.4" r="13"/></clipPath>
<g clip-path="url(#cMoon)"><ellipse cx="323.5" cy="1247.5" rx="5" ry="4.5" fill="#4a4a62" opacity="0.6"/><ellipse cx="330" cy="1246" rx="3" ry="2.5" fill="#55556c" opacity="0.5"/><ellipse cx="326" cy="1256" rx="3" ry="2.2" fill="#5a5a72" opacity="0.45"/><ellipse cx="333" cy="1255" rx="3.5" ry="3" fill="#e0e0ea" opacity="0.5"/></g>
<circle cx="367.4" cy="1251.8" r="15.4" fill="#1a8de6"/>
<circle cx="367.6" cy="1249.4" r="12" fill="#d5ebfa" stroke="#ffffff" stroke-width="0.6"/>
<polygon points="367.6,1240.6 368.5,1244.9 371.0,1241.3 370.2,1245.6 373.8,1243.2 371.4,1246.8 375.7,1246.0 372.1,1248.5 376.4,1249.4 372.1,1250.3 375.7,1252.8 371.4,1252.0 373.8,1255.6 370.2,1253.2 371.0,1257.5 368.5,1253.9 367.6,1258.2 366.7,1253.9 364.2,1257.5 365.0,1253.2 361.4,1255.6 363.8,1252.0 359.5,1252.8 363.1,1250.3 358.8,1249.4 363.1,1248.5 359.5,1246.0 363.8,1246.8 361.4,1243.2 365.0,1245.6 364.2,1241.3 366.7,1244.9" fill="#3fa2ea"/>
<circle cx="367.6" cy="1249.4" r="4.2" fill="#d5ebfa"/><circle cx="367.6" cy="1249.4" r="2.6" fill="#3fa2ea"/>
<text x="348.2" y="1286.3" class="se" fill="#111" font-size="7.2" textLength="40" lengthAdjust="spacingAndGlyphs">The <tspan font-size="11.6">Moon</tspan></text>
<radialGradient id="bMars" cx="0.36" cy="0.4" r="0.68"><stop offset="0" stop-color="#e0703a"/><stop offset="0.4" stop-color="#c0421f"/><stop offset="0.7" stop-color="#8a2a16"/><stop offset="0.92" stop-color="#2a0c08"/><stop offset="1" stop-color="#120504"/></radialGradient>
<circle cx="431.6" cy="1252.4" r="17.7" fill="url(#bMars)"/>
<clipPath id="cMars"><circle cx="431.6" cy="1252.4" r="17.7"/></clipPath>
<g clip-path="url(#cMars)"><ellipse cx="424" cy="1246" rx="7" ry="4" fill="#6a2216" opacity="0.6" transform="rotate(-20 424 1246)"/><ellipse cx="436" cy="1258" rx="8" ry="4" fill="#7a2a18" opacity="0.5" transform="rotate(25 436 1258)"/><ellipse cx="428" cy="1262" rx="6" ry="3" fill="#d87a4a" opacity="0.4"/></g>
<path d="M474.2,1233 l1.6,3 l1.4,-1.6 l0.8,3.4 l2.2,2.2 l-1,3.2 l-1.6,1.4 l2,4 l0.6,6 l-1.6,5 l0.4,6 l1.6,5 l1.4,1.2 l-9.6,0 l1.6,-1.6 l0.6,-7 l-1.2,-6 l-1.8,-5 l0.4,-6 l2.4,-3.6 l-2.6,-2 l-1,-3 l2.2,-1.6 z" fill="#eeb0a0" stroke="#cf3a3a" stroke-width="1.3" stroke-linejoin="round"/>
<path d="M474.5,1249 q2.5,3 1.5,8 M477.5,1246 l0.5,6 M474,1262 l4,0" stroke="#c83a3a" stroke-width="1.1" fill="none"/>
<text x="467.8" y="1286.3" font-size="11.6" class="se" fill="#111" textLength="22.7" lengthAdjust="spacingAndGlyphs" >Mars</text>
<radialGradient id="bMerc" cx="0.45" cy="0.4" r="0.6"><stop offset="0" stop-color="#9a3a1c"/><stop offset="0.5" stop-color="#6a2212"/><stop offset="0.85" stop-color="#43120a"/><stop offset="1" stop-color="#2a0a06"/></radialGradient>
<circle cx="531.4" cy="1253" r="15.5" fill="url(#bMerc)"/>
<clipPath id="cMerc"><circle cx="531.4" cy="1253" r="15.5"/></clipPath>
<g clip-path="url(#cMerc)" stroke="#d98a3a" stroke-width="0.8" fill="none" opacity="0.75"><path d="M520,1248 q5,-4 9,1 t9,-2 M522,1258 q6,3 10,-2 t9,3 M528,1242 q3,6 -1,10 t3,9 M536,1244 q-2,6 2,9"/></g>
<path d="M571.3,1233.4 q0.8,3.4 4.4,5.2 q2.6,1.2 4.4,0.8 q-3.4,2 -4.6,6 q-0.8,4 -0.4,15.4 l-1.6,0 q0.6,-14 -0.4,-19 q-0.8,-5 -1.8,-8.4 z" fill="#1f7fd6"/>
<rect x="568" y="1260.7" width="15.2" height="10.4" fill="#5f6f4c" stroke="#3e4a30" stroke-width="0.5"/>
<path d="M568,1263.3h15.2M568,1265.9h15.2M568,1268.5h15.2" stroke="#8a9a6c" stroke-width="0.6"/>
<text x="557.1" y="1286.3" font-size="11.6" class="se" fill="#111" textLength="37.2" lengthAdjust="spacingAndGlyphs" >Mercury</text>
<linearGradient id="bJup" x1="0.2" y1="0" x2="0.35" y2="1"><stop offset="0" stop-color="#6a6a70"/><stop offset="0.16" stop-color="#b9b4b0"/><stop offset="0.3" stop-color="#8a5a40"/><stop offset="0.4" stop-color="#d8cfc6"/><stop offset="0.5" stop-color="#e6dfd6"/><stop offset="0.58" stop-color="#a3654a"/><stop offset="0.68" stop-color="#c9a58c"/><stop offset="0.8" stop-color="#9a7866"/><stop offset="0.92" stop-color="#6a625e"/><stop offset="1" stop-color="#3a3838"/></linearGradient>
<radialGradient id="shJ" cx="0.42" cy="0.4" r="0.62"><stop offset="0" stop-color="rgba(255,255,255,0.18)"/><stop offset="0.6" stop-color="rgba(0,0,0,0)"/><stop offset="0.9" stop-color="rgba(0,0,0,0.45)"/><stop offset="1" stop-color="rgba(0,0,0,0.75)"/></radialGradient>
<circle cx="639.9" cy="1252" r="19.2" fill="url(#bJup)"/><circle cx="639.9" cy="1252" r="19.2" fill="url(#shJ)"/>
<path d="M677.7,1233.6 l5.4,10 l-3.6,-1.6 l-0.9,0 l0,18.7 l-1.8,0 l0,-18.7 l-0.9,0 l-3.6,1.6 z" fill="#9a5a48" stroke="#6a3a2c" stroke-width="0.6" stroke-linejoin="round"/>
<rect x="670.9" y="1260.7" width="13.9" height="10.8" fill="#e2a31d" stroke="#a87410" stroke-width="0.5"/>
<rect x="673" y="1264.6" width="3.6" height="4.4" fill="#b8860f" stroke="#7a5808" stroke-width="0.4"/><rect x="679" y="1264.6" width="3.6" height="4.4" fill="#b8860f" stroke="#7a5808" stroke-width="0.4"/>
<text x="666.2" y="1286.3" font-size="11.6" class="se" fill="#111" textLength="28.8" lengthAdjust="spacingAndGlyphs" >Jupiter</text>
<radialGradient id="bVen" cx="0.42" cy="0.38" r="0.62"><stop offset="0" stop-color="#d9a878"/><stop offset="0.45" stop-color="#a8683a"/><stop offset="0.8" stop-color="#6f3a1c"/><stop offset="1" stop-color="#3a1c0c"/></radialGradient>
<circle cx="733" cy="1252.4" r="12.1" fill="url(#bVen)"/>
<clipPath id="cVen"><circle cx="733" cy="1252.4" r="12.1"/></clipPath>
<g clip-path="url(#cVen)"><ellipse cx="729" cy="1248" rx="3.5" ry="2.5" fill="#ecd0aa" opacity="0.7"/><ellipse cx="736" cy="1255" rx="4" ry="2.5" fill="#e0b88a" opacity="0.6"/><ellipse cx="730" cy="1258" rx="3" ry="2" fill="#5a2a12" opacity="0.5"/></g>
<polygon points="774.8,1234.1 777.1,1247.3 787.5,1240.1 780.3,1250.5 793.5,1252.8 780.3,1255.1 787.5,1265.5 777.1,1258.3 774.8,1271.5 772.5,1258.3 762.1,1265.5 769.3,1255.1 756.1,1252.8 769.3,1250.5 762.1,1240.1 772.5,1247.3" fill="#cfe6f8" stroke="#2a92e6" stroke-width="0.8"/>
<line x1="774.8" y1="1252.8" x2="774.8" y2="1234.8" stroke="#4aa6ee" stroke-width="0.4"/>
<line x1="774.8" y1="1252.8" x2="787.5" y2="1240.1" stroke="#4aa6ee" stroke-width="0.4"/>
<line x1="774.8" y1="1252.8" x2="792.8" y2="1252.8" stroke="#4aa6ee" stroke-width="0.4"/>
<line x1="774.8" y1="1252.8" x2="787.5" y2="1265.5" stroke="#4aa6ee" stroke-width="0.4"/>
<line x1="774.8" y1="1252.8" x2="774.8" y2="1270.8" stroke="#4aa6ee" stroke-width="0.4"/>
<line x1="774.8" y1="1252.8" x2="762.1" y2="1265.5" stroke="#4aa6ee" stroke-width="0.4"/>
<line x1="774.8" y1="1252.8" x2="756.8" y2="1252.8" stroke="#4aa6ee" stroke-width="0.4"/>
<line x1="774.8" y1="1252.8" x2="762.1" y2="1240.1" stroke="#4aa6ee" stroke-width="0.4"/>
<circle cx="774.8" cy="1252.8" r="3.8" fill="#8fc8f2" stroke="#8ad0b0" stroke-width="0.7"/>
<text x="770.0" y="1286.3" font-size="11.6" class="se" fill="#111" textLength="25.7" lengthAdjust="spacingAndGlyphs" >Venus</text>
<radialGradient id="bSat" cx="0.4" cy="0.35" r="0.65"><stop offset="0" stop-color="#f0b050"/><stop offset="0.5" stop-color="#d08a30"/><stop offset="0.85" stop-color="#8a5218"/><stop offset="1" stop-color="#4a2a0c"/></radialGradient>
<g transform="translate(839,1251.7) rotate(-24)"><ellipse cx="0" cy="0" rx="24.5" ry="6.4" fill="#8a6a3a" stroke="#1c1408" stroke-width="1.6"/><ellipse cx="0" cy="0" rx="17" ry="3.2" fill="#ffffff"/></g>
<circle cx="839" cy="1251.7" r="11" fill="url(#bSat)" stroke="#2a1a0a" stroke-width="0.6"/>
<g transform="translate(839,1251.7) rotate(-24)"><path d="M-24.5,0 A24.5,6.4 0 0 0 24.5,0 A24.5,4.2 0 0 1 -24.5,0 Z" fill="#9a7a4a" stroke="#1c1408" stroke-width="1.1"/></g>
<g clip-path="url(#cSatB)"></g>
<path d="M851,1253 C862,1256 868,1255 876,1254 L900,1248 M866,1262 L900,1253 M851.8,1262.7 H900.7" stroke="#7a5230" stroke-width="1.6" fill="none" stroke-linecap="round"/>
<path d="M875,1243.5 h6 l-1,4 l5,10 M877,1247.5 l-9,12 M890,1247 h5 l-1,3.6 l3,7 M891.5,1250.6 l-7,9" stroke="#9a5a34" stroke-width="1.3" fill="none"/>
<path d="M875,1243 h6 l-0.8,4 h-4.4 z M890,1246.5 h5 l-0.8,3.6 h-3.4 z" fill="#d8683a"/>
<path d="M878,1248 l6,9 M892,1251 l4,7" stroke="#b8c840" stroke-width="0.8"/>
<path d="M851.8,1262.9 H900.7" stroke="#9a9a9a" stroke-width="0.7"/>
<text x="872.7" y="1286.3" font-size="11.6" class="se" fill="#111" textLength="28.6" lengthAdjust="spacingAndGlyphs" >Saturn</text>
<radialGradient id="tb" cx="0.5" cy="0.5" r="0.62"><stop offset="0" stop-color="#fcfaec"/><stop offset="0.45" stop-color="#f3f0dc"/><stop offset="1" stop-color="#d3d0b2"/></radialGradient>
<rect x="95.2" y="1295.2" width="269.7" height="102.1" fill="url(#tb)"/>
<rect x="364.9" y="1295.2" width="270.1" height="102.1" fill="url(#tb)"/>
<rect x="635" y="1295.2" width="269.0" height="102.1" fill="url(#tb)"/>
<path d="M95.2,1295.2 H117" stroke="#0b7a2d" stroke-width="2.2" stroke-dasharray="5.2,3" fill="none"/>
<path d="M341.6,1295.2 H904 V1397.3 H95.2 V1295.2" stroke="#0b7a2d" stroke-width="2.2" stroke-dasharray="5.2,3" fill="none"/>
<path d="M364.9,1295.2 V1397.3 M635,1295.2 V1397.3" stroke="#0b7a2d" stroke-width="2" stroke-dasharray="5.2,3" fill="none"/>
<text x="116.2" y="1296.4" font-size="19.8" class="se" fill="#c0185a" textLength="221.4" lengthAdjust="spacingAndGlyphs" stroke="#c0185a" stroke-width="0.3">Proto-Kaldi Time Extra Terms</text>
<text x="108.4" y="1312.8" font-size="17.2" class="se" fill="#111" textLength="81.4" lengthAdjust="spacingAndGlyphs" >Millennium</text>
<text x="216.2" y="1312.8" font-size="17.2" class="se i" fill="#111" textLength="66.0" lengthAdjust="spacingAndGlyphs" >līm šanāti</text>
<text x="108.4" y="1332.4" font-size="17.2" class="se" fill="#111" textLength="55.0" lengthAdjust="spacingAndGlyphs" >Century</text>
<text x="216.2" y="1332.4" font-size="17.2" class="se i" fill="#111" textLength="31.7" lengthAdjust="spacingAndGlyphs" >dāru</text>
<text x="110.6" y="1350.4" font-size="17.2" class="se" fill="#111" textLength="30.8" lengthAdjust="spacingAndGlyphs" >Year</text>
<text x="216.2" y="1350.4" font-size="17.2" class="se i" fill="#111" textLength="33.0" lengthAdjust="spacingAndGlyphs" >šattu</text>
<text x="110.6" y="1369.3" font-size="17.2" class="se" fill="#111" textLength="69.1" lengthAdjust="spacingAndGlyphs" >Leap Year</text>
<text x="216.2" y="1369.3" font-size="17.2" class="se i" fill="#111" textLength="62.5" lengthAdjust="spacingAndGlyphs" >šattu diri</text>
<text x="109.3" y="1388.5" font-size="17.2" class="se" fill="#111" textLength="48.4" lengthAdjust="spacingAndGlyphs" >Season</text>
<text x="214" y="1388.5" class="se" fill="#111" font-size="17.2" textLength="132" lengthAdjust="spacingAndGlyphs" xml:space="preserve">(3months) <tspan font-style="italic">daš ' um</tspan></text>
<text x="376.8" y="1312.0" font-size="17.2" class="se" fill="#111" textLength="46.2" lengthAdjust="spacingAndGlyphs" >Month</text>
<text x="469.0" y="1312.0" font-size="17.2" class="se i" fill="#111" textLength="35.0" lengthAdjust="spacingAndGlyphs" >arḫu</text>
<text x="376.8" y="1331.5" font-size="17.2" class="se" fill="#111" textLength="62.4" lengthAdjust="spacingAndGlyphs" >½ Month</text>
<text x="469" y="1331.5" class="se" fill="#111" font-size="17.2" textLength="143.5" lengthAdjust="spacingAndGlyphs">(Two weeks) <tspan font-style="italic">šabattu</tspan></text>
<text x="377.6" y="1350.6" font-size="17.2" class="se" fill="#111" textLength="36.6" lengthAdjust="spacingAndGlyphs" >Week</text>
<text x="467.0" y="1350.6" font-size="17.2" class="se i" fill="#111" textLength="54.0" lengthAdjust="spacingAndGlyphs" >šapattu</text>
<text x="379.0" y="1370.0" font-size="17.2" class="se" fill="#111" textLength="27.4" lengthAdjust="spacingAndGlyphs" >Day</text>
<text x="467" y="1370" class="se" fill="#111" font-size="17.2" textLength="84" lengthAdjust="spacingAndGlyphs"><tspan font-style="italic">ūmu</tspan> / Night</text>
<text x="568.5" y="1370.0" font-size="17.2" class="se i" fill="#111" textLength="36.5" lengthAdjust="spacingAndGlyphs" >mūšu</text>
<text x="377.6" y="1388.4" class="se" fill="#111" font-size="17.2" textLength="177.4" lengthAdjust="spacingAndGlyphs">Morning /dawn <tspan font-style="italic">ṣītu / šēru</tspan></text>
<text x="651.0" y="1314.0" font-size="17.2" class="se" fill="#111" textLength="108.0" lengthAdjust="spacingAndGlyphs" >Midday (Noon)</text>
<text x="785.0" y="1314.0" font-size="17.2" class="se i" fill="#111" textLength="52.5" lengthAdjust="spacingAndGlyphs" >muṣlālu</text>
<text x="649.0" y="1331.4" font-size="17.2" class="se" fill="#111" textLength="65.0" lengthAdjust="spacingAndGlyphs" >Midnight</text>
<text x="731.0" y="1331.4" font-size="17.2" class="se i" fill="#111" textLength="164.0" lengthAdjust="spacingAndGlyphs" >mūšu mašil /mišil mūši</text>
<text x="649.0" y="1351.0" font-size="17.2" class="se" fill="#111" textLength="35.0" lengthAdjust="spacingAndGlyphs" >Hour</text>
<text x="784.0" y="1351.0" font-size="17.2" class="se i" fill="#111" textLength="31.0" lengthAdjust="spacingAndGlyphs" >beru</text>
<text x="649.0" y="1369.4" font-size="17.2" class="se" fill="#111" textLength="122.0" lengthAdjust="spacingAndGlyphs" >Minute &amp; Second</text>
<text x="784" y="1369.4" class="se" fill="#111" font-size="17.2" textLength="107" lengthAdjust="spacingAndGlyphs"><tspan font-style="italic">uš</tspan> <tspan font-size="13">also</tspan> <tspan font-style="italic">daqqaqu</tspan></text>
<text x="649.0" y="1388.4" font-size="17.2" class="se" fill="#111" textLength="50.0" lengthAdjust="spacingAndGlyphs" >Second</text>
<text x="782.5" y="1388.4" font-size="17.2" class="se i" fill="#111" textLength="56.0" lengthAdjust="spacingAndGlyphs" >daqqiqu</text>
<circle cx="87.6" cy="1443.6" r="5" fill="none" stroke="#c8202a" stroke-width="1.1"/>
<text x="87.6" y="1446.8" font-size="9" class="sa b" fill="#c8202a" text-anchor="middle" >C</text>
<text x="94.3" y="1447.0" font-size="9.4" class="se" fill="#111" textLength="231.9" lengthAdjust="spacingAndGlyphs" >Researched and Sketched By Amer Hanna Fatuhi 2004 - 2021</text>
<text x="827.5" y="1447.5" class="sa" fill="#1d3f73" font-size="8.6" textLength="90" lengthAdjust="spacingAndGlyphs">www.<tspan font-weight="bold" font-size="10.2">Ea-ArtG</tspan>.com</text>
<path d="M746,1441.5 q3,-1.5 5,1 q1.5,2 -1.5,2.6 q-3,0.4 -4.5,-1.2 M752,1446 l4,-1" stroke="#222" stroke-width="0.9" fill="none"/>
<path d="M762,1445.5 h22 M765,1445.5 v-3 M769,1445.5 v-2.4 h3 v2.4 M776,1445.5 v-3.4 M780,1445.5 v-2.2 h3 M789,1445.5 h11 M791,1445.5 v-3 M795,1445.5 v-2.4 h3 M804,1445.5 h16 M806,1445.5 v-3.2 M810,1445.5 v-2.2 h3 v2.2 M816,1445.5 v-3.4" stroke="#222" stroke-width="1" fill="none"/>
<circle cx="772" cy="1447.6" r="0.6" fill="#222"/><circle cx="793" cy="1441" r="0.6" fill="#222"/><circle cx="812" cy="1447.6" r="0.6" fill="#222"/>
</svg></body></html>
